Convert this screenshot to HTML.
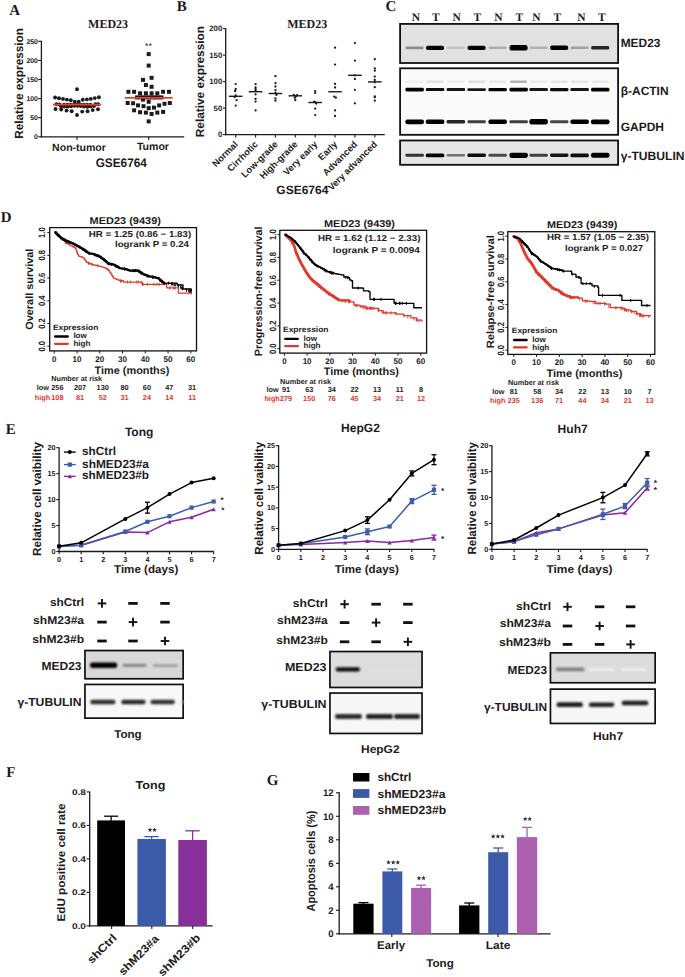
<!DOCTYPE html>
<html><head><meta charset="utf-8"><style>
html,body{margin:0;padding:0;background:#fff;}
svg{display:block;}

</style></head><body>
<svg width="685" height="977" viewBox="0 0 685 977" text-rendering="geometricPrecision">
<rect width="685" height="977" fill="#fff"/>
<text font-family="'Liberation Serif', serif" font-size="15" font-weight="bold" fill="#1e1a1b" text-anchor="start" x="9.20" y="15.40" >A</text>
<text font-family="'Liberation Serif', serif" font-size="12.2" font-weight="bold" fill="#1e1a1b" text-anchor="start" textLength="40" lengthAdjust="spacingAndGlyphs" x="88.10" y="27.80" >MED23</text>
<line x1="41.40" y1="40.80" x2="41.40" y2="137.40" stroke="#1e1a1b" stroke-width="1.3" />
<line x1="38.20" y1="136.80" x2="41.40" y2="136.80" stroke="#1e1a1b" stroke-width="1.1" />
<text font-family="'Liberation Sans', sans-serif" font-size="6.9" font-weight="bold" fill="#1e1a1b" text-anchor="end" x="37.90" y="139.20" >0</text>
<line x1="38.20" y1="117.70" x2="41.40" y2="117.70" stroke="#1e1a1b" stroke-width="1.1" />
<text font-family="'Liberation Sans', sans-serif" font-size="6.9" font-weight="bold" fill="#1e1a1b" text-anchor="end" x="37.90" y="120.10" >50</text>
<line x1="38.20" y1="98.60" x2="41.40" y2="98.60" stroke="#1e1a1b" stroke-width="1.1" />
<text font-family="'Liberation Sans', sans-serif" font-size="6.9" font-weight="bold" fill="#1e1a1b" text-anchor="end" x="37.90" y="101.00" >100</text>
<line x1="38.20" y1="79.50" x2="41.40" y2="79.50" stroke="#1e1a1b" stroke-width="1.1" />
<text font-family="'Liberation Sans', sans-serif" font-size="6.9" font-weight="bold" fill="#1e1a1b" text-anchor="end" x="37.90" y="81.90" >150</text>
<line x1="38.20" y1="60.40" x2="41.40" y2="60.40" stroke="#1e1a1b" stroke-width="1.1" />
<text font-family="'Liberation Sans', sans-serif" font-size="6.9" font-weight="bold" fill="#1e1a1b" text-anchor="end" x="37.90" y="62.80" >200</text>
<line x1="38.20" y1="41.30" x2="41.40" y2="41.30" stroke="#1e1a1b" stroke-width="1.1" />
<text font-family="'Liberation Sans', sans-serif" font-size="6.9" font-weight="bold" fill="#1e1a1b" text-anchor="end" x="37.90" y="43.70" >250</text>
<line x1="40.80" y1="136.80" x2="184.20" y2="136.80" stroke="#1e1a1b" stroke-width="1.3" />
<line x1="77.00" y1="136.80" x2="77.00" y2="140.00" stroke="#1e1a1b" stroke-width="1.1" />
<line x1="148.70" y1="136.80" x2="148.70" y2="140.00" stroke="#1e1a1b" stroke-width="1.1" />
<text font-family="'Liberation Sans', sans-serif" font-size="10.5" font-weight="bold" fill="#1e1a1b" text-anchor="start" textLength="53.8" lengthAdjust="spacingAndGlyphs" x="52.10" y="150.80" >Non-tumor</text>
<text font-family="'Liberation Sans', sans-serif" font-size="10.6" font-weight="bold" fill="#1e1a1b" text-anchor="start" textLength="32.1" lengthAdjust="spacingAndGlyphs" x="136.90" y="149.80" >Tumor</text>
<text font-family="'Liberation Sans', sans-serif" font-size="12.4" font-weight="bold" fill="#1e1a1b" text-anchor="start" textLength="51.2" lengthAdjust="spacingAndGlyphs" x="95.70" y="166.60" >GSE6764</text>
<text font-family="'Liberation Sans', sans-serif" font-size="11.8" font-weight="bold" fill="#1e1a1b" text-anchor="middle" textLength="110.8" lengthAdjust="spacingAndGlyphs" transform="translate(22.90,83.40) rotate(-90)" x="0" y="0" >Relative expression</text>
<circle cx="55.10" cy="97.50" r="1.95" fill="#1e1a1b"/>
<circle cx="59.00" cy="98.30" r="1.95" fill="#1e1a1b"/>
<circle cx="63.00" cy="98.90" r="1.95" fill="#1e1a1b"/>
<circle cx="66.90" cy="99.60" r="1.95" fill="#1e1a1b"/>
<circle cx="70.80" cy="100.30" r="1.95" fill="#1e1a1b"/>
<circle cx="74.80" cy="101.80" r="1.95" fill="#1e1a1b"/>
<circle cx="78.70" cy="101.60" r="1.95" fill="#1e1a1b"/>
<circle cx="82.80" cy="99.80" r="1.95" fill="#1e1a1b"/>
<circle cx="86.90" cy="99.40" r="1.95" fill="#1e1a1b"/>
<circle cx="90.80" cy="98.90" r="1.95" fill="#1e1a1b"/>
<circle cx="94.80" cy="98.10" r="1.95" fill="#1e1a1b"/>
<circle cx="98.90" cy="97.20" r="1.95" fill="#1e1a1b"/>
<circle cx="55.50" cy="109.00" r="1.95" fill="#1e1a1b"/>
<circle cx="61.20" cy="109.50" r="1.95" fill="#1e1a1b"/>
<circle cx="66.50" cy="110.60" r="1.95" fill="#1e1a1b"/>
<circle cx="71.70" cy="111.20" r="1.95" fill="#1e1a1b"/>
<circle cx="77.00" cy="115.00" r="1.95" fill="#1e1a1b"/>
<circle cx="82.20" cy="111.60" r="1.95" fill="#1e1a1b"/>
<circle cx="87.50" cy="111.20" r="1.95" fill="#1e1a1b"/>
<circle cx="92.70" cy="110.10" r="1.95" fill="#1e1a1b"/>
<circle cx="98.00" cy="109.20" r="1.95" fill="#1e1a1b"/>
<circle cx="56.50" cy="104.30" r="1.95" fill="#1e1a1b"/>
<circle cx="59.50" cy="104.40" r="1.95" fill="#1e1a1b"/>
<circle cx="95.50" cy="104.30" r="1.95" fill="#1e1a1b"/>
<circle cx="98.20" cy="104.20" r="1.95" fill="#1e1a1b"/>
<circle cx="61.00" cy="106.20" r="1.95" fill="#1e1a1b"/>
<circle cx="64.30" cy="106.62" r="1.95" fill="#1e1a1b"/>
<circle cx="67.60" cy="106.65" r="1.95" fill="#1e1a1b"/>
<circle cx="70.90" cy="106.27" r="1.95" fill="#1e1a1b"/>
<circle cx="74.20" cy="105.82" r="1.95" fill="#1e1a1b"/>
<circle cx="77.50" cy="105.72" r="1.95" fill="#1e1a1b"/>
<circle cx="80.80" cy="106.06" r="1.95" fill="#1e1a1b"/>
<circle cx="84.10" cy="106.53" r="1.95" fill="#1e1a1b"/>
<circle cx="87.40" cy="106.69" r="1.95" fill="#1e1a1b"/>
<circle cx="90.70" cy="106.41" r="1.95" fill="#1e1a1b"/>
<circle cx="94.00" cy="105.93" r="1.95" fill="#1e1a1b"/>
<circle cx="64.00" cy="104.80" r="1.95" fill="#1e1a1b"/>
<circle cx="67.30" cy="104.80" r="1.95" fill="#1e1a1b"/>
<circle cx="70.60" cy="104.80" r="1.95" fill="#1e1a1b"/>
<circle cx="73.90" cy="104.80" r="1.95" fill="#1e1a1b"/>
<circle cx="77.20" cy="104.80" r="1.95" fill="#1e1a1b"/>
<circle cx="80.50" cy="104.80" r="1.95" fill="#1e1a1b"/>
<circle cx="83.80" cy="104.80" r="1.95" fill="#1e1a1b"/>
<circle cx="87.10" cy="104.80" r="1.95" fill="#1e1a1b"/>
<circle cx="90.40" cy="104.80" r="1.95" fill="#1e1a1b"/>
<circle cx="77.00" cy="89.30" r="1.95" fill="#1e1a1b"/>
<line x1="52.90" y1="104.70" x2="101.10" y2="104.70" stroke="#e8412c" stroke-width="1.7" />
<rect x="146.70" y="52.10" width="4.00" height="4.00" fill="#1e1a1b" />
<rect x="146.70" y="63.60" width="4.00" height="4.00" fill="#1e1a1b" />
<rect x="149.60" y="75.80" width="4.00" height="4.00" fill="#1e1a1b" />
<rect x="141.00" y="77.90" width="4.00" height="4.00" fill="#1e1a1b" />
<rect x="143.90" y="83.00" width="4.00" height="4.00" fill="#1e1a1b" />
<rect x="149.60" y="84.80" width="4.00" height="4.00" fill="#1e1a1b" />
<rect x="126.40" y="89.80" width="4.00" height="4.00" fill="#1e1a1b" />
<rect x="132.10" y="89.80" width="4.00" height="4.00" fill="#1e1a1b" />
<rect x="138.10" y="91.30" width="4.00" height="4.00" fill="#1e1a1b" />
<rect x="143.90" y="91.30" width="4.00" height="4.00" fill="#1e1a1b" />
<rect x="149.60" y="91.30" width="4.00" height="4.00" fill="#1e1a1b" />
<rect x="155.30" y="91.30" width="4.00" height="4.00" fill="#1e1a1b" />
<rect x="161.10" y="89.80" width="4.00" height="4.00" fill="#1e1a1b" />
<rect x="167.00" y="89.80" width="4.00" height="4.00" fill="#1e1a1b" />
<rect x="135.00" y="95.40" width="4.00" height="4.00" fill="#1e1a1b" />
<rect x="138.50" y="95.40" width="4.00" height="4.00" fill="#1e1a1b" />
<rect x="141.50" y="95.40" width="4.00" height="4.00" fill="#1e1a1b" />
<rect x="144.50" y="95.40" width="4.00" height="4.00" fill="#1e1a1b" />
<rect x="147.50" y="95.40" width="4.00" height="4.00" fill="#1e1a1b" />
<rect x="150.50" y="95.40" width="4.00" height="4.00" fill="#1e1a1b" />
<rect x="153.50" y="95.40" width="4.00" height="4.00" fill="#1e1a1b" />
<rect x="156.50" y="95.40" width="4.00" height="4.00" fill="#1e1a1b" />
<rect x="159.50" y="95.40" width="4.00" height="4.00" fill="#1e1a1b" />
<rect x="141.00" y="97.60" width="4.00" height="4.00" fill="#1e1a1b" />
<rect x="146.70" y="99.80" width="4.00" height="4.00" fill="#1e1a1b" />
<rect x="125.70" y="101.00" width="4.00" height="4.00" fill="#1e1a1b" />
<rect x="131.10" y="101.30" width="4.00" height="4.00" fill="#1e1a1b" />
<rect x="136.00" y="103.40" width="4.00" height="4.00" fill="#1e1a1b" />
<rect x="141.50" y="104.20" width="4.00" height="4.00" fill="#1e1a1b" />
<rect x="146.70" y="106.10" width="4.00" height="4.00" fill="#1e1a1b" />
<rect x="152.00" y="105.60" width="4.00" height="4.00" fill="#1e1a1b" />
<rect x="157.10" y="103.40" width="4.00" height="4.00" fill="#1e1a1b" />
<rect x="162.50" y="101.80" width="4.00" height="4.00" fill="#1e1a1b" />
<rect x="167.80" y="101.00" width="4.00" height="4.00" fill="#1e1a1b" />
<rect x="132.10" y="108.30" width="4.00" height="4.00" fill="#1e1a1b" />
<rect x="138.10" y="110.20" width="4.00" height="4.00" fill="#1e1a1b" />
<rect x="143.90" y="110.60" width="4.00" height="4.00" fill="#1e1a1b" />
<rect x="149.60" y="112.00" width="4.00" height="4.00" fill="#1e1a1b" />
<rect x="155.30" y="110.60" width="4.00" height="4.00" fill="#1e1a1b" />
<rect x="161.10" y="109.90" width="4.00" height="4.00" fill="#1e1a1b" />
<rect x="146.70" y="119.40" width="4.00" height="4.00" fill="#1e1a1b" />
<line x1="124.90" y1="97.90" x2="172.70" y2="97.90" stroke="#e8412c" stroke-width="1.7" />
<polygon points="146.70,42.80 147.17,43.95 148.41,44.04 147.46,44.85 147.76,46.06 146.70,45.40 145.64,46.06 145.94,44.85 144.99,44.04 146.23,43.95" fill="#444"/>
<polygon points="150.30,42.80 150.77,43.95 152.01,44.04 151.06,44.85 151.36,46.06 150.30,45.40 149.24,46.06 149.54,44.85 148.59,44.04 149.83,43.95" fill="#444"/>
<text font-family="'Liberation Serif', serif" font-size="15" font-weight="bold" fill="#1e1a1b" text-anchor="start" x="176.70" y="10.70" >B</text>
<line x1="225.70" y1="28.10" x2="225.70" y2="135.20" stroke="#1e1a1b" stroke-width="1.3" />
<line x1="222.90" y1="134.60" x2="225.70" y2="134.60" stroke="#1e1a1b" stroke-width="1.1" />
<text font-family="'Liberation Sans', sans-serif" font-size="7.8" font-weight="bold" fill="#1e1a1b" text-anchor="end" x="222.30" y="137.40" >0</text>
<line x1="222.90" y1="108.10" x2="225.70" y2="108.10" stroke="#1e1a1b" stroke-width="1.1" />
<text font-family="'Liberation Sans', sans-serif" font-size="7.8" font-weight="bold" fill="#1e1a1b" text-anchor="end" x="222.30" y="110.90" >50</text>
<line x1="222.90" y1="81.60" x2="225.70" y2="81.60" stroke="#1e1a1b" stroke-width="1.1" />
<text font-family="'Liberation Sans', sans-serif" font-size="7.8" font-weight="bold" fill="#1e1a1b" text-anchor="end" x="222.30" y="84.40" >100</text>
<line x1="222.90" y1="55.10" x2="225.70" y2="55.10" stroke="#1e1a1b" stroke-width="1.1" />
<text font-family="'Liberation Sans', sans-serif" font-size="7.8" font-weight="bold" fill="#1e1a1b" text-anchor="end" x="222.30" y="57.90" >150</text>
<line x1="222.90" y1="28.60" x2="225.70" y2="28.60" stroke="#1e1a1b" stroke-width="1.1" />
<text font-family="'Liberation Sans', sans-serif" font-size="7.8" font-weight="bold" fill="#1e1a1b" text-anchor="end" x="222.30" y="31.40" >200</text>
<line x1="225.10" y1="134.60" x2="384.70" y2="134.60" stroke="#1e1a1b" stroke-width="1.3" />
<line x1="235.70" y1="134.60" x2="235.70" y2="137.60" stroke="#1e1a1b" stroke-width="1.1" />
<text font-family="'Liberation Sans', sans-serif" font-size="9.3" font-weight="bold" fill="#1e1a1b" text-anchor="end" transform="translate(238.60,144.90) rotate(-45)" x="0" y="0" >Normal</text>
<line x1="255.57" y1="134.60" x2="255.57" y2="137.60" stroke="#1e1a1b" stroke-width="1.1" />
<text font-family="'Liberation Sans', sans-serif" font-size="9.3" font-weight="bold" fill="#1e1a1b" text-anchor="end" transform="translate(258.47,144.90) rotate(-45)" x="0" y="0" >Cirrhotic</text>
<line x1="275.44" y1="134.60" x2="275.44" y2="137.60" stroke="#1e1a1b" stroke-width="1.1" />
<text font-family="'Liberation Sans', sans-serif" font-size="9.3" font-weight="bold" fill="#1e1a1b" text-anchor="end" transform="translate(278.34,144.90) rotate(-45)" x="0" y="0" >Low-grade</text>
<line x1="295.31" y1="134.60" x2="295.31" y2="137.60" stroke="#1e1a1b" stroke-width="1.1" />
<text font-family="'Liberation Sans', sans-serif" font-size="9.3" font-weight="bold" fill="#1e1a1b" text-anchor="end" transform="translate(298.21,144.90) rotate(-45)" x="0" y="0" >High-grade</text>
<line x1="315.18" y1="134.60" x2="315.18" y2="137.60" stroke="#1e1a1b" stroke-width="1.1" />
<text font-family="'Liberation Sans', sans-serif" font-size="9.3" font-weight="bold" fill="#1e1a1b" text-anchor="end" transform="translate(318.08,144.90) rotate(-45)" x="0" y="0" >Very early</text>
<line x1="335.05" y1="134.60" x2="335.05" y2="137.60" stroke="#1e1a1b" stroke-width="1.1" />
<text font-family="'Liberation Sans', sans-serif" font-size="9.3" font-weight="bold" fill="#1e1a1b" text-anchor="end" transform="translate(337.95,144.90) rotate(-45)" x="0" y="0" >Early</text>
<line x1="354.92" y1="134.60" x2="354.92" y2="137.60" stroke="#1e1a1b" stroke-width="1.1" />
<text font-family="'Liberation Sans', sans-serif" font-size="9.3" font-weight="bold" fill="#1e1a1b" text-anchor="end" transform="translate(357.82,144.90) rotate(-45)" x="0" y="0" >Advanced</text>
<line x1="374.79" y1="134.60" x2="374.79" y2="137.60" stroke="#1e1a1b" stroke-width="1.1" />
<text font-family="'Liberation Sans', sans-serif" font-size="9.3" font-weight="bold" fill="#1e1a1b" text-anchor="end" transform="translate(377.69,144.90) rotate(-45)" x="0" y="0" >Very advanced</text>
<text font-family="'Liberation Sans', sans-serif" font-size="12" font-weight="bold" fill="#1e1a1b" text-anchor="start" textLength="52.1" lengthAdjust="spacingAndGlyphs" x="276.30" y="194.30" >GSE6764</text>
<text font-family="'Liberation Sans', sans-serif" font-size="11.8" font-weight="bold" fill="#1e1a1b" text-anchor="middle" textLength="111.2" lengthAdjust="spacingAndGlyphs" transform="translate(204.10,81.60) rotate(-90)" x="0" y="0" >Relative expression</text>
<text font-family="'Liberation Serif', serif" font-size="12.2" font-weight="bold" fill="#1e1a1b" text-anchor="start" textLength="40" lengthAdjust="spacingAndGlyphs" x="287.20" y="27.60" >MED23</text>
<line x1="228.90" y1="96.30" x2="242.50" y2="96.30" stroke="#1e1a1b" stroke-width="1.4" />
<circle cx="235.70" cy="84.10" r="1.15" fill="#1e1a1b"/>
<circle cx="235.70" cy="89.00" r="1.15" fill="#1e1a1b"/>
<circle cx="235.20" cy="91.00" r="1.15" fill="#1e1a1b"/>
<circle cx="234.70" cy="97.20" r="1.15" fill="#1e1a1b"/>
<circle cx="236.70" cy="100.20" r="1.15" fill="#1e1a1b"/>
<circle cx="235.70" cy="105.60" r="1.15" fill="#1e1a1b"/>
<circle cx="235.70" cy="95.50" r="1.15" fill="#1e1a1b"/>
<line x1="248.77" y1="91.70" x2="262.37" y2="91.70" stroke="#1e1a1b" stroke-width="1.4" />
<circle cx="255.57" cy="84.10" r="1.15" fill="#1e1a1b"/>
<circle cx="255.57" cy="87.30" r="1.15" fill="#1e1a1b"/>
<circle cx="255.57" cy="89.00" r="1.15" fill="#1e1a1b"/>
<circle cx="255.57" cy="94.30" r="1.15" fill="#1e1a1b"/>
<circle cx="255.57" cy="98.90" r="1.15" fill="#1e1a1b"/>
<circle cx="255.57" cy="101.60" r="1.15" fill="#1e1a1b"/>
<circle cx="255.57" cy="110.40" r="1.15" fill="#1e1a1b"/>
<circle cx="255.57" cy="90.50" r="1.15" fill="#1e1a1b"/>
<line x1="268.64" y1="93.50" x2="282.24" y2="93.50" stroke="#1e1a1b" stroke-width="1.4" />
<circle cx="275.44" cy="76.20" r="1.15" fill="#1e1a1b"/>
<circle cx="275.44" cy="83.20" r="1.15" fill="#1e1a1b"/>
<circle cx="275.44" cy="86.50" r="1.15" fill="#1e1a1b"/>
<circle cx="275.44" cy="90.20" r="1.15" fill="#1e1a1b"/>
<circle cx="276.44" cy="94.90" r="1.15" fill="#1e1a1b"/>
<circle cx="275.44" cy="98.40" r="1.15" fill="#1e1a1b"/>
<circle cx="275.44" cy="100.70" r="1.15" fill="#1e1a1b"/>
<circle cx="275.44" cy="93.00" r="1.15" fill="#1e1a1b"/>
<line x1="288.51" y1="95.80" x2="302.11" y2="95.80" stroke="#1e1a1b" stroke-width="1.4" />
<circle cx="293.81" cy="95.00" r="1.15" fill="#1e1a1b"/>
<circle cx="297.11" cy="95.20" r="1.15" fill="#1e1a1b"/>
<circle cx="295.31" cy="100.20" r="1.15" fill="#1e1a1b"/>
<circle cx="295.81" cy="96.50" r="1.15" fill="#1e1a1b"/>
<circle cx="294.81" cy="97.80" r="1.15" fill="#1e1a1b"/>
<line x1="308.38" y1="102.50" x2="321.98" y2="102.50" stroke="#1e1a1b" stroke-width="1.4" />
<circle cx="315.18" cy="91.10" r="1.15" fill="#1e1a1b"/>
<circle cx="315.18" cy="93.10" r="1.15" fill="#1e1a1b"/>
<circle cx="314.18" cy="101.60" r="1.15" fill="#1e1a1b"/>
<circle cx="316.18" cy="103.60" r="1.15" fill="#1e1a1b"/>
<circle cx="315.18" cy="108.60" r="1.15" fill="#1e1a1b"/>
<circle cx="315.18" cy="115.10" r="1.15" fill="#1e1a1b"/>
<circle cx="315.18" cy="102.20" r="1.15" fill="#1e1a1b"/>
<line x1="328.25" y1="91.75" x2="341.85" y2="91.75" stroke="#1e1a1b" stroke-width="1.4" />
<circle cx="335.05" cy="47.70" r="1.15" fill="#1e1a1b"/>
<circle cx="335.05" cy="64.60" r="1.15" fill="#1e1a1b"/>
<circle cx="335.05" cy="83.90" r="1.15" fill="#1e1a1b"/>
<circle cx="335.05" cy="87.50" r="1.15" fill="#1e1a1b"/>
<circle cx="334.25" cy="96.70" r="1.15" fill="#1e1a1b"/>
<circle cx="335.85" cy="97.70" r="1.15" fill="#1e1a1b"/>
<circle cx="335.05" cy="110.40" r="1.15" fill="#1e1a1b"/>
<circle cx="335.05" cy="116.00" r="1.15" fill="#1e1a1b"/>
<line x1="348.12" y1="75.30" x2="361.72" y2="75.30" stroke="#1e1a1b" stroke-width="1.4" />
<circle cx="354.92" cy="43.10" r="1.15" fill="#1e1a1b"/>
<circle cx="354.92" cy="60.60" r="1.15" fill="#1e1a1b"/>
<circle cx="354.92" cy="75.30" r="1.15" fill="#1e1a1b"/>
<circle cx="354.92" cy="79.00" r="1.15" fill="#1e1a1b"/>
<circle cx="354.92" cy="89.80" r="1.15" fill="#1e1a1b"/>
<circle cx="354.92" cy="103.30" r="1.15" fill="#1e1a1b"/>
<line x1="367.99" y1="81.90" x2="381.59" y2="81.90" stroke="#1e1a1b" stroke-width="1.4" />
<circle cx="374.79" cy="59.20" r="1.15" fill="#1e1a1b"/>
<circle cx="374.79" cy="68.40" r="1.15" fill="#1e1a1b"/>
<circle cx="374.79" cy="70.70" r="1.15" fill="#1e1a1b"/>
<circle cx="374.79" cy="76.60" r="1.15" fill="#1e1a1b"/>
<circle cx="374.79" cy="79.90" r="1.15" fill="#1e1a1b"/>
<circle cx="374.79" cy="82.30" r="1.15" fill="#1e1a1b"/>
<circle cx="374.79" cy="87.20" r="1.15" fill="#1e1a1b"/>
<circle cx="374.79" cy="96.40" r="1.15" fill="#1e1a1b"/>
<circle cx="374.79" cy="97.30" r="1.15" fill="#1e1a1b"/>
<circle cx="374.79" cy="100.70" r="1.15" fill="#1e1a1b"/>
<text font-family="'Liberation Serif', serif" font-size="15" font-weight="bold" fill="#1e1a1b" text-anchor="start" x="385.60" y="10.80" >C</text>
<text font-family="'Liberation Serif', serif" font-size="11.5" font-weight="bold" fill="#1e1a1b" text-anchor="middle" x="415.90" y="20.80" >N</text>
<text font-family="'Liberation Serif', serif" font-size="11.5" font-weight="bold" fill="#1e1a1b" text-anchor="middle" x="435.80" y="20.80" >T</text>
<text font-family="'Liberation Serif', serif" font-size="11.5" font-weight="bold" fill="#1e1a1b" text-anchor="middle" x="456.60" y="20.80" >N</text>
<text font-family="'Liberation Serif', serif" font-size="11.5" font-weight="bold" fill="#1e1a1b" text-anchor="middle" x="477.40" y="20.80" >T</text>
<text font-family="'Liberation Serif', serif" font-size="11.5" font-weight="bold" fill="#1e1a1b" text-anchor="middle" x="498.40" y="20.80" >N</text>
<text font-family="'Liberation Serif', serif" font-size="11.5" font-weight="bold" fill="#1e1a1b" text-anchor="middle" x="519.40" y="20.80" >T</text>
<text font-family="'Liberation Serif', serif" font-size="11.5" font-weight="bold" fill="#1e1a1b" text-anchor="middle" x="536.40" y="20.80" >N</text>
<text font-family="'Liberation Serif', serif" font-size="11.5" font-weight="bold" fill="#1e1a1b" text-anchor="middle" x="557.30" y="20.80" >T</text>
<text font-family="'Liberation Serif', serif" font-size="11.5" font-weight="bold" fill="#1e1a1b" text-anchor="middle" x="581.40" y="20.80" >N</text>
<text font-family="'Liberation Serif', serif" font-size="11.5" font-weight="bold" fill="#1e1a1b" text-anchor="middle" x="601.90" y="20.80" >T</text>
<defs><filter id="bl" x="-30%" y="-100%" width="160%" height="300%"><feGaussianBlur stdDeviation="0.65"/></filter><filter id="bl2" x="-30%" y="-100%" width="160%" height="300%"><feGaussianBlur stdDeviation="1.0"/></filter></defs>
<rect x="399.20" y="23.00" width="219.80" height="40.90" fill="#e1e1e1" />
<rect x="400.09999999999997" y="23.9" width="218.0" height="39.1" fill="none" stroke="#111" stroke-width="1.8"/>
<rect x="405.6" y="46.4" width="18.0" height="2.8" rx="1.1" fill="rgb(140,140,140)" filter="url(#bl)"/>
<rect x="426.0" y="45.7" width="18.0" height="4.2" rx="1.7" fill="rgb(0,0,0)" filter="url(#bl)"/>
<rect x="446.8" y="46.6" width="18.0" height="2.4" rx="1.0" fill="rgb(191,191,191)" filter="url(#bl)"/>
<rect x="467.6" y="45.7" width="18.0" height="4.2" rx="1.7" fill="rgb(0,0,0)" filter="url(#bl)"/>
<rect x="488.6" y="46.5" width="18.0" height="2.6" rx="1.0" fill="rgb(173,173,173)" filter="url(#bl)"/>
<rect x="509.6" y="45.0" width="18.0" height="5.6" rx="2.2" fill="rgb(0,0,0)" filter="url(#bl)"/>
<rect x="529.6" y="46.5" width="18.0" height="2.6" rx="1.0" fill="rgb(178,178,178)" filter="url(#bl)"/>
<rect x="550.2" y="45.6" width="18.0" height="4.4" rx="1.8" fill="rgb(0,0,0)" filter="url(#bl)"/>
<rect x="570.6" y="46.5" width="18.0" height="2.6" rx="1.0" fill="rgb(163,163,163)" filter="url(#bl)"/>
<rect x="591.2" y="46.0" width="18.0" height="3.6" rx="1.4" fill="rgb(38,38,38)" filter="url(#bl)"/>
<rect x="399.20" y="67.40" width="219.80" height="68.30" fill="#fafafa" />
<rect x="400.09999999999997" y="68.30000000000001" width="218.0" height="66.49999999999999" fill="none" stroke="#111" stroke-width="1.8"/>
<rect x="406.1" y="80.6" width="17.0" height="2.4" rx="1.0" fill="rgb(239,239,239)" filter="url(#bl)"/>
<rect x="405.4" y="87.8" width="18.5" height="3.6" rx="1.4" fill="rgb(0,0,0)" filter="url(#bl)"/>
<rect x="405.4" y="119.4" width="18.5" height="4.8" rx="1.9" fill="rgb(0,0,0)" filter="url(#bl)"/>
<rect x="426.5" y="80.6" width="17.0" height="2.4" rx="1.0" fill="rgb(224,224,224)" filter="url(#bl)"/>
<rect x="425.8" y="88.1" width="18.5" height="3.0" rx="1.2" fill="rgb(12,12,12)" filter="url(#bl)"/>
<rect x="425.8" y="119.5" width="18.5" height="4.6" rx="1.8" fill="rgb(0,0,0)" filter="url(#bl)"/>
<rect x="447.3" y="80.6" width="17.0" height="2.4" rx="1.0" fill="rgb(237,237,237)" filter="url(#bl)"/>
<rect x="446.6" y="88.1" width="18.5" height="3.0" rx="1.2" fill="rgb(20,20,20)" filter="url(#bl)"/>
<rect x="446.6" y="120.0" width="18.5" height="3.6" rx="1.4" fill="rgb(38,38,38)" filter="url(#bl)"/>
<rect x="468.1" y="80.6" width="17.0" height="2.4" rx="1.0" fill="rgb(224,224,224)" filter="url(#bl)"/>
<rect x="467.4" y="88.2" width="18.5" height="2.8" rx="1.1" fill="rgb(25,25,25)" filter="url(#bl)"/>
<rect x="467.4" y="120.3" width="18.5" height="3.0" rx="1.2" fill="rgb(63,63,63)" filter="url(#bl)"/>
<rect x="489.1" y="80.6" width="17.0" height="2.4" rx="1.0" fill="rgb(232,232,232)" filter="url(#bl)"/>
<rect x="488.4" y="87.9" width="18.5" height="3.4" rx="1.4" fill="rgb(5,5,5)" filter="url(#bl)"/>
<rect x="488.4" y="119.6" width="18.5" height="4.4" rx="1.8" fill="rgb(0,0,0)" filter="url(#bl)"/>
<rect x="510.1" y="80.6" width="17.0" height="2.4" rx="1.0" fill="rgb(178,178,178)" filter="url(#bl)"/>
<rect x="509.4" y="87.8" width="18.5" height="3.6" rx="1.4" fill="rgb(0,0,0)" filter="url(#bl)"/>
<rect x="509.4" y="120.3" width="18.5" height="3.0" rx="1.2" fill="rgb(63,63,63)" filter="url(#bl)"/>
<rect x="530.1" y="80.6" width="17.0" height="2.4" rx="1.0" fill="rgb(237,237,237)" filter="url(#bl)"/>
<rect x="529.4" y="88.1" width="18.5" height="3.0" rx="1.2" fill="rgb(20,20,20)" filter="url(#bl)"/>
<rect x="529.4" y="119.1" width="18.5" height="5.4" rx="2.2" fill="rgb(0,0,0)" filter="url(#bl)"/>
<rect x="550.7" y="80.6" width="17.0" height="2.4" rx="1.0" fill="rgb(229,229,229)" filter="url(#bl)"/>
<rect x="550.0" y="88.0" width="18.5" height="3.2" rx="1.3" fill="rgb(12,12,12)" filter="url(#bl)"/>
<rect x="550.0" y="120.3" width="18.5" height="3.0" rx="1.2" fill="rgb(71,71,71)" filter="url(#bl)"/>
<rect x="571.1" y="80.6" width="17.0" height="2.4" rx="1.0" fill="rgb(232,232,232)" filter="url(#bl)"/>
<rect x="570.4" y="88.1" width="18.5" height="3.0" rx="1.2" fill="rgb(25,25,25)" filter="url(#bl)"/>
<rect x="570.4" y="119.6" width="18.5" height="4.4" rx="1.8" fill="rgb(0,0,0)" filter="url(#bl)"/>
<rect x="591.7" y="80.6" width="17.0" height="2.4" rx="1.0" fill="rgb(232,232,232)" filter="url(#bl)"/>
<rect x="591.0" y="87.7" width="18.5" height="3.8" rx="1.5" fill="rgb(0,0,0)" filter="url(#bl)"/>
<rect x="591.0" y="119.4" width="18.5" height="4.8" rx="1.9" fill="rgb(0,0,0)" filter="url(#bl)"/>
<rect x="399.20" y="139.60" width="219.80" height="26.10" fill="#e6e6e6" />
<rect x="400.09999999999997" y="140.5" width="218.0" height="24.299999999999994" fill="none" stroke="#111" stroke-width="1.8"/>
<rect x="405.4" y="153.8" width="18.5" height="3.0" rx="1.2" fill="rgb(50,50,50)" filter="url(#bl)"/>
<rect x="425.8" y="153.4" width="18.5" height="3.8" rx="1.5" fill="rgb(0,0,0)" filter="url(#bl)"/>
<rect x="446.6" y="154.0" width="18.5" height="2.6" rx="1.0" fill="rgb(114,114,114)" filter="url(#bl)"/>
<rect x="467.4" y="153.5" width="18.5" height="3.6" rx="1.4" fill="rgb(12,12,12)" filter="url(#bl)"/>
<rect x="488.4" y="153.8" width="18.5" height="3.0" rx="1.2" fill="rgb(76,76,76)" filter="url(#bl)"/>
<rect x="509.4" y="152.7" width="18.5" height="5.2" rx="2.1" fill="rgb(0,0,0)" filter="url(#bl)"/>
<rect x="529.4" y="153.8" width="18.5" height="3.0" rx="1.2" fill="rgb(63,63,63)" filter="url(#bl)"/>
<rect x="550.0" y="153.6" width="18.5" height="3.4" rx="1.4" fill="rgb(25,25,25)" filter="url(#bl)"/>
<rect x="570.4" y="153.4" width="18.5" height="3.8" rx="1.5" fill="rgb(12,12,12)" filter="url(#bl)"/>
<rect x="591.0" y="152.8" width="18.5" height="5.0" rx="2.0" fill="rgb(0,0,0)" filter="url(#bl)"/>
<text font-family="'Liberation Sans', sans-serif" font-size="12" font-weight="bold" fill="#1e1a1b" text-anchor="start" textLength="39.7" lengthAdjust="spacingAndGlyphs" x="620.70" y="47.00" >MED23</text>
<text font-family="'Liberation Sans', sans-serif" font-size="12" font-weight="bold" fill="#1e1a1b" text-anchor="start" textLength="47.9" lengthAdjust="spacingAndGlyphs" x="620.70" y="94.80" >β-ACTIN</text>
<text font-family="'Liberation Sans', sans-serif" font-size="12" font-weight="bold" fill="#1e1a1b" text-anchor="start" textLength="43.3" lengthAdjust="spacingAndGlyphs" x="620.70" y="130.90" >GAPDH</text>
<text font-family="'Liberation Sans', sans-serif" font-size="12" font-weight="bold" fill="#1e1a1b" text-anchor="start" textLength="63.8" lengthAdjust="spacingAndGlyphs" x="620.70" y="159.60" >γ-TUBULIN</text>
<text font-family="'Liberation Serif', serif" font-size="15" font-weight="bold" fill="#1e1a1b" text-anchor="start" x="0.80" y="222.10" >D</text>
<rect x="49.7" y="227.6" width="146.8" height="123.29999999999998" fill="none" stroke="#111" stroke-width="1.3"/>
<line x1="47.30" y1="232.60" x2="49.70" y2="232.60" stroke="#1e1a1b" stroke-width="1.0" />
<text font-family="'Liberation Sans', sans-serif" font-size="9.2" font-weight="bold" fill="#1e1a1b" text-anchor="middle" textLength="10.6" lengthAdjust="spacingAndGlyphs" transform="translate(45.20,232.60) rotate(-90)" x="0" y="0" >1.0</text>
<line x1="47.30" y1="255.32" x2="49.70" y2="255.32" stroke="#1e1a1b" stroke-width="1.0" />
<text font-family="'Liberation Sans', sans-serif" font-size="9.2" font-weight="bold" fill="#1e1a1b" text-anchor="middle" textLength="10.6" lengthAdjust="spacingAndGlyphs" transform="translate(45.20,255.32) rotate(-90)" x="0" y="0" >0.8</text>
<line x1="47.30" y1="278.04" x2="49.70" y2="278.04" stroke="#1e1a1b" stroke-width="1.0" />
<text font-family="'Liberation Sans', sans-serif" font-size="9.2" font-weight="bold" fill="#1e1a1b" text-anchor="middle" textLength="10.6" lengthAdjust="spacingAndGlyphs" transform="translate(45.20,278.04) rotate(-90)" x="0" y="0" >0.6</text>
<line x1="47.30" y1="300.76" x2="49.70" y2="300.76" stroke="#1e1a1b" stroke-width="1.0" />
<text font-family="'Liberation Sans', sans-serif" font-size="9.2" font-weight="bold" fill="#1e1a1b" text-anchor="middle" textLength="10.6" lengthAdjust="spacingAndGlyphs" transform="translate(45.20,300.76) rotate(-90)" x="0" y="0" >0.4</text>
<line x1="47.30" y1="323.48" x2="49.70" y2="323.48" stroke="#1e1a1b" stroke-width="1.0" />
<text font-family="'Liberation Sans', sans-serif" font-size="9.2" font-weight="bold" fill="#1e1a1b" text-anchor="middle" textLength="10.6" lengthAdjust="spacingAndGlyphs" transform="translate(45.20,323.48) rotate(-90)" x="0" y="0" >0.2</text>
<line x1="47.30" y1="346.20" x2="49.70" y2="346.20" stroke="#1e1a1b" stroke-width="1.0" />
<text font-family="'Liberation Sans', sans-serif" font-size="9.2" font-weight="bold" fill="#1e1a1b" text-anchor="middle" textLength="10.6" lengthAdjust="spacingAndGlyphs" transform="translate(45.20,346.20) rotate(-90)" x="0" y="0" >0.0</text>
<line x1="54.20" y1="350.90" x2="54.20" y2="353.50" stroke="#1e1a1b" stroke-width="1.0" />
<text font-family="'Liberation Sans', sans-serif" font-size="8.2" font-weight="bold" fill="#1e1a1b" text-anchor="middle" textLength="4.4" lengthAdjust="spacingAndGlyphs" x="54.20" y="362.00" >0</text>
<line x1="76.97" y1="350.90" x2="76.97" y2="353.50" stroke="#1e1a1b" stroke-width="1.0" />
<text font-family="'Liberation Sans', sans-serif" font-size="8.2" font-weight="bold" fill="#1e1a1b" text-anchor="middle" textLength="9.0" lengthAdjust="spacingAndGlyphs" x="76.97" y="362.00" >10</text>
<line x1="99.74" y1="350.90" x2="99.74" y2="353.50" stroke="#1e1a1b" stroke-width="1.0" />
<text font-family="'Liberation Sans', sans-serif" font-size="8.2" font-weight="bold" fill="#1e1a1b" text-anchor="middle" textLength="9.0" lengthAdjust="spacingAndGlyphs" x="99.74" y="362.00" >20</text>
<line x1="122.51" y1="350.90" x2="122.51" y2="353.50" stroke="#1e1a1b" stroke-width="1.0" />
<text font-family="'Liberation Sans', sans-serif" font-size="8.2" font-weight="bold" fill="#1e1a1b" text-anchor="middle" textLength="9.0" lengthAdjust="spacingAndGlyphs" x="122.51" y="362.00" >30</text>
<line x1="145.28" y1="350.90" x2="145.28" y2="353.50" stroke="#1e1a1b" stroke-width="1.0" />
<text font-family="'Liberation Sans', sans-serif" font-size="8.2" font-weight="bold" fill="#1e1a1b" text-anchor="middle" textLength="9.0" lengthAdjust="spacingAndGlyphs" x="145.28" y="362.00" >40</text>
<line x1="168.05" y1="350.90" x2="168.05" y2="353.50" stroke="#1e1a1b" stroke-width="1.0" />
<text font-family="'Liberation Sans', sans-serif" font-size="8.2" font-weight="bold" fill="#1e1a1b" text-anchor="middle" textLength="9.0" lengthAdjust="spacingAndGlyphs" x="168.05" y="362.00" >50</text>
<line x1="190.82" y1="350.90" x2="190.82" y2="353.50" stroke="#1e1a1b" stroke-width="1.0" />
<text font-family="'Liberation Sans', sans-serif" font-size="8.2" font-weight="bold" fill="#1e1a1b" text-anchor="middle" textLength="9.0" lengthAdjust="spacingAndGlyphs" x="190.82" y="362.00" >60</text>
<text font-family="'Liberation Sans', sans-serif" font-size="10.6" font-weight="bold" fill="#1e1a1b" text-anchor="middle" textLength="81" lengthAdjust="spacingAndGlyphs" transform="translate(32.90,289.20) rotate(-90)" x="0" y="0" >Overall survival</text>
<text font-family="'Liberation Sans', sans-serif" font-size="9.9" font-weight="bold" fill="#1e1a1b" text-anchor="start" textLength="71.3" lengthAdjust="spacingAndGlyphs" x="89.60" y="224.40" >MED23 (9439)</text>
<text font-family="'Liberation Sans', sans-serif" font-size="8.6" font-weight="bold" fill="#1e1a1b" text-anchor="start" textLength="102.4" lengthAdjust="spacingAndGlyphs" x="88.80" y="236.60" >HR = 1.25 (0.86 − 1.83)</text>
<text font-family="'Liberation Sans', sans-serif" font-size="8.6" font-weight="bold" fill="#1e1a1b" text-anchor="start" textLength="74.0" lengthAdjust="spacingAndGlyphs" x="115.00" y="246.80" >logrank P = 0.24</text>
<text font-family="'Liberation Sans', sans-serif" font-size="10.8" font-weight="bold" fill="#1e1a1b" text-anchor="start" textLength="74.8" lengthAdjust="spacingAndGlyphs" x="94.60" y="373.70" >Time (months)</text>
<text font-family="'Liberation Sans', sans-serif" font-size="7.8" font-weight="bold" fill="#1e1a1b" text-anchor="start" textLength="45.5" lengthAdjust="spacingAndGlyphs" x="52.90" y="329.60" >Expression</text>
<line x1="55.10" y1="336.50" x2="67.80" y2="336.50" stroke="#000" stroke-width="2.3" stroke-linecap="round"/>
<line x1="55.10" y1="343.80" x2="67.80" y2="343.80" stroke="#e2382a" stroke-width="2.3" stroke-linecap="round"/>
<text font-family="'Liberation Sans', sans-serif" font-size="7.8" font-weight="bold" fill="#1e1a1b" text-anchor="start" textLength="13.4" lengthAdjust="spacingAndGlyphs" x="73.40" y="338.30" >low</text>
<text font-family="'Liberation Sans', sans-serif" font-size="7.8" font-weight="bold" fill="#1e1a1b" text-anchor="start" textLength="17.0" lengthAdjust="spacingAndGlyphs" x="73.40" y="346.00" >high</text>
<text font-family="'Liberation Sans', sans-serif" font-size="7.3" font-weight="bold" fill="#1e1a1b" text-anchor="start" textLength="51" lengthAdjust="spacingAndGlyphs" x="51.20" y="381.30" >Number at risk</text>
<text font-family="'Liberation Sans', sans-serif" font-size="7.3" font-weight="bold" fill="#1e1a1b" text-anchor="end" x="48.90" y="390.10" >low</text>
<text font-family="'Liberation Sans', sans-serif" font-size="7.3" font-weight="bold" fill="#e2382a" text-anchor="end" x="50.20" y="400.10" >high</text>
<text font-family="'Liberation Sans', sans-serif" font-size="7.3" font-weight="bold" fill="#1e1a1b" text-anchor="middle" x="57.40" y="390.10" >256</text>
<text font-family="'Liberation Sans', sans-serif" font-size="7.3" font-weight="bold" fill="#e2382a" text-anchor="middle" x="57.40" y="400.10" >108</text>
<text font-family="'Liberation Sans', sans-serif" font-size="7.3" font-weight="bold" fill="#1e1a1b" text-anchor="middle" x="80.00" y="390.10" >207</text>
<text font-family="'Liberation Sans', sans-serif" font-size="7.3" font-weight="bold" fill="#e2382a" text-anchor="middle" x="80.00" y="400.10" >81</text>
<text font-family="'Liberation Sans', sans-serif" font-size="7.3" font-weight="bold" fill="#1e1a1b" text-anchor="middle" x="102.70" y="390.10" >130</text>
<text font-family="'Liberation Sans', sans-serif" font-size="7.3" font-weight="bold" fill="#e2382a" text-anchor="middle" x="102.70" y="400.10" >52</text>
<text font-family="'Liberation Sans', sans-serif" font-size="7.3" font-weight="bold" fill="#1e1a1b" text-anchor="middle" x="124.50" y="390.10" >80</text>
<text font-family="'Liberation Sans', sans-serif" font-size="7.3" font-weight="bold" fill="#e2382a" text-anchor="middle" x="124.50" y="400.10" >31</text>
<text font-family="'Liberation Sans', sans-serif" font-size="7.3" font-weight="bold" fill="#1e1a1b" text-anchor="middle" x="146.90" y="390.10" >60</text>
<text font-family="'Liberation Sans', sans-serif" font-size="7.3" font-weight="bold" fill="#e2382a" text-anchor="middle" x="146.90" y="400.10" >24</text>
<text font-family="'Liberation Sans', sans-serif" font-size="7.3" font-weight="bold" fill="#1e1a1b" text-anchor="middle" x="169.20" y="390.10" >47</text>
<text font-family="'Liberation Sans', sans-serif" font-size="7.3" font-weight="bold" fill="#e2382a" text-anchor="middle" x="169.20" y="400.10" >14</text>
<text font-family="'Liberation Sans', sans-serif" font-size="7.3" font-weight="bold" fill="#1e1a1b" text-anchor="middle" x="192.10" y="390.10" >31</text>
<text font-family="'Liberation Sans', sans-serif" font-size="7.3" font-weight="bold" fill="#e2382a" text-anchor="middle" x="192.10" y="400.10" >11</text>
<polyline points="55.0,232.2 56.4,232.2 56.4,233.6 57.8,233.6 57.8,234.9 59.2,234.9 59.2,236.3 60.6,236.3 60.6,237.6 62.0,237.6 62.0,239.0 63.6,239.0 63.6,240.6 65.1,240.6 65.1,242.1 66.7,242.1 66.7,243.7 68.2,243.7 68.2,244.4 69.6,244.4 69.6,245.1 71.0,245.1 71.0,245.9 72.5,245.9 72.5,246.6 74.0,246.6 74.0,247.5 75.4,247.5 75.4,248.4 76.0,248.4 76.0,249.9 76.6,249.9 76.6,251.4 77.2,251.4 77.2,253.0 77.8,253.0 77.8,254.5 78.4,254.5 78.4,256.0 79.9,256.0 79.9,256.6 81.5,256.6 81.5,257.1 83.0,257.1 83.0,257.7 84.2,257.7 84.2,259.3 85.3,259.3 85.3,260.8 86.5,260.8 86.5,262.4 88.0,262.4 88.0,263.0 89.5,263.0 89.5,263.5 90.9,263.5 90.9,264.1 92.4,264.1 92.4,264.7 93.9,264.7 93.9,265.0 95.3,265.0 95.3,265.3 96.8,265.3 96.8,265.6 98.2,265.6 98.2,265.9 99.7,265.9 99.7,266.3 101.1,266.3 101.1,266.8 102.5,266.8 102.5,267.2 104.0,267.2 104.0,267.6 105.2,267.6 105.2,268.2 106.4,268.2 106.4,268.8 107.6,268.8 107.6,269.4 108.7,269.4 108.7,270.9 109.9,270.9 109.9,272.5 111.0,272.5 111.0,274.0 111.8,274.0 111.8,275.4 112.6,275.4 112.6,276.7 113.4,276.7 113.4,278.1 114.9,278.1 114.9,278.7 116.3,278.7 116.3,279.3 117.8,279.3 117.8,279.9 119.2,279.9 119.2,280.5 123.5,280.5 123.5,282.0 141.0,282.0 141.0,282.0 142.2,282.0 142.2,284.4 162.0,284.4 162.0,284.4 166.7,284.4 166.7,287.9 177.2,287.9 177.2,287.9 178.4,287.9 178.4,293.1 191.8,293.1 191.8,293.1" fill="none" stroke="#e2382a" stroke-width="1.25" stroke-linejoin="round" />
<polyline points="55.0,232.2 56.4,232.2 56.4,233.6 57.8,233.6 57.8,234.9 59.2,234.9 59.2,236.3" fill="none" stroke="#e2382a" stroke-width="1.8" stroke-linejoin="round" />
<line x1="89.10" y1="261.90" x2="89.10" y2="264.90" stroke="#e2382a" stroke-width="0.9" />
<line x1="130.40" y1="280.50" x2="130.40" y2="283.50" stroke="#e2382a" stroke-width="0.9" />
<line x1="106.90" y1="267.50" x2="106.90" y2="270.50" stroke="#e2382a" stroke-width="0.9" />
<line x1="138.40" y1="280.50" x2="138.40" y2="283.50" stroke="#e2382a" stroke-width="0.9" />
<line x1="141.30" y1="281.20" x2="141.30" y2="284.20" stroke="#e2382a" stroke-width="0.9" />
<line x1="65.80" y1="241.30" x2="65.80" y2="244.30" stroke="#e2382a" stroke-width="0.9" />
<line x1="58.80" y1="234.40" x2="58.80" y2="237.40" stroke="#e2382a" stroke-width="0.9" />
<line x1="169.90" y1="286.40" x2="169.90" y2="289.40" stroke="#e2382a" stroke-width="0.9" />
<line x1="92.00" y1="263.00" x2="92.00" y2="266.00" stroke="#e2382a" stroke-width="0.9" />
<line x1="88.60" y1="261.70" x2="88.60" y2="264.70" stroke="#e2382a" stroke-width="0.9" />
<line x1="191.20" y1="291.60" x2="191.20" y2="294.60" stroke="#e2382a" stroke-width="0.9" />
<line x1="120.40" y1="279.40" x2="120.40" y2="282.40" stroke="#e2382a" stroke-width="0.9" />
<line x1="169.80" y1="286.40" x2="169.80" y2="289.40" stroke="#e2382a" stroke-width="0.9" />
<line x1="121.20" y1="279.70" x2="121.20" y2="282.70" stroke="#e2382a" stroke-width="0.9" />
<line x1="143.10" y1="282.90" x2="143.10" y2="285.90" stroke="#e2382a" stroke-width="0.9" />
<line x1="77.30" y1="251.70" x2="77.30" y2="254.70" stroke="#e2382a" stroke-width="0.9" />
<line x1="142.60" y1="282.90" x2="142.60" y2="285.90" stroke="#e2382a" stroke-width="0.9" />
<line x1="174.00" y1="286.40" x2="174.00" y2="289.40" stroke="#e2382a" stroke-width="0.9" />
<line x1="127.50" y1="280.50" x2="127.50" y2="283.50" stroke="#e2382a" stroke-width="0.9" />
<line x1="156.90" y1="282.90" x2="156.90" y2="285.90" stroke="#e2382a" stroke-width="0.9" />
<line x1="147.50" y1="282.90" x2="147.50" y2="285.90" stroke="#e2382a" stroke-width="0.9" />
<line x1="65.60" y1="241.10" x2="65.60" y2="244.10" stroke="#e2382a" stroke-width="0.9" />
<line x1="159.20" y1="282.90" x2="159.20" y2="285.90" stroke="#e2382a" stroke-width="0.9" />
<line x1="136.70" y1="280.50" x2="136.70" y2="283.50" stroke="#e2382a" stroke-width="0.9" />
<line x1="97.60" y1="264.30" x2="97.60" y2="267.30" stroke="#e2382a" stroke-width="0.9" />
<line x1="61.20" y1="236.70" x2="61.20" y2="239.70" stroke="#e2382a" stroke-width="0.9" />
<line x1="173.70" y1="286.40" x2="173.70" y2="289.40" stroke="#e2382a" stroke-width="0.9" />
<line x1="120.70" y1="279.50" x2="120.70" y2="282.50" stroke="#e2382a" stroke-width="0.9" />
<line x1="153.90" y1="282.90" x2="153.90" y2="285.90" stroke="#e2382a" stroke-width="0.9" />
<line x1="175.50" y1="286.40" x2="175.50" y2="289.40" stroke="#e2382a" stroke-width="0.9" />
<polyline points="54.4,232.2 55.7,232.2 55.7,233.5 57.0,233.5 57.0,234.8 58.4,234.8 58.4,236.0 59.7,236.0 59.7,237.3 61.2,237.3 61.2,238.2 62.6,238.2 62.6,239.1 64.0,239.1 64.0,239.9 65.5,239.9 65.5,240.8 67.0,240.8 67.0,241.4 68.5,241.4 68.5,241.9 69.9,241.9 69.9,242.5 71.4,242.5 71.4,243.1 72.9,243.1 72.9,243.8 74.3,243.8 74.3,244.6 75.8,244.6 75.8,245.3 77.2,245.3 77.2,246.0 78.7,246.0 78.7,246.9 80.1,246.9 80.1,247.8 81.5,247.8 81.5,248.6 83.0,248.6 83.0,249.5 84.5,249.5 84.5,250.5 86.0,250.5 86.0,251.6 87.4,251.6 87.4,252.6 88.9,252.6 88.9,253.6 92.4,253.6 92.4,254.0 93.9,254.0 93.9,254.5 95.3,254.5 95.3,255.0 96.8,255.0 96.8,255.5 98.2,255.5 98.2,256.0 99.7,256.0 99.7,257.0 101.1,257.0 101.1,258.0 102.5,258.0 102.5,259.0 104.0,259.0 104.0,260.0 105.2,260.0 105.2,261.2 106.4,261.2 106.4,262.3 107.6,262.3 107.6,263.5 109.0,263.5 109.0,263.8 110.5,263.8 110.5,264.1 112.0,264.1 112.0,264.4 113.4,264.4 113.4,264.7 114.9,264.7 114.9,265.6 116.3,265.6 116.3,266.4 117.8,266.4 117.8,267.3 119.2,267.3 119.2,268.2 120.6,268.2 120.6,268.4 122.0,268.4 122.0,268.6 123.3,268.6 123.3,268.8 124.7,268.8 124.7,269.0 126.2,269.0 126.2,269.5 127.8,269.5 127.8,270.1 129.3,270.1 129.3,270.6 137.5,270.6 137.5,270.6 139.1,270.6 139.1,271.7 140.6,271.7 140.6,272.8 142.2,272.8 142.2,273.9 143.6,273.9 143.6,274.5 145.1,274.5 145.1,275.0 146.6,275.0 146.6,275.6 148.0,275.6 148.0,276.2 149.6,276.2 149.6,276.5 151.1,276.5 151.1,276.8 152.7,276.8 152.7,277.1 154.3,277.1 154.3,277.4 155.8,277.4 155.8,277.7 157.4,277.7 157.4,278.0 158.8,278.0 158.8,279.3 160.3,279.3 160.3,280.6 161.8,280.6 161.8,281.9 163.2,281.9 163.2,283.2 169.0,283.2 169.0,283.2 177.2,283.2 177.2,285.0 183.0,285.0 183.0,289.0 191.2,289.0 191.2,291.4" fill="none" stroke="#000" stroke-width="1.35" stroke-linejoin="round" />
<polyline points="54.4,232.2 55.7,232.2 55.7,233.5 57.0,233.5 57.0,234.8 58.4,234.8 58.4,236.0 59.7,236.0 59.7,237.3 61.2,237.3 61.2,238.2 62.6,238.2 62.6,239.1 64.0,239.1 64.0,239.9 65.5,239.9 65.5,240.8 67.0,240.8 67.0,241.4 68.5,241.4 68.5,241.9 69.9,241.9 69.9,242.5 71.4,242.5 71.4,243.1 72.9,243.1 72.9,243.8 74.3,243.8 74.3,244.6 75.8,244.6 75.8,245.3 77.2,245.3 77.2,246.0 78.7,246.0 78.7,246.9 80.1,246.9 80.1,247.8 81.5,247.8 81.5,248.6 83.0,248.6 83.0,249.5 84.5,249.5 84.5,250.5 86.0,250.5 86.0,251.6 87.4,251.6 87.4,252.6 88.9,252.6 88.9,253.6 92.4,253.6 92.4,254.0 93.9,254.0 93.9,254.5 95.3,254.5 95.3,255.0 96.8,255.0 96.8,255.5 98.2,255.5 98.2,256.0 99.7,256.0 99.7,257.0 101.1,257.0 101.1,258.0 102.5,258.0 102.5,259.0 104.0,259.0 104.0,260.0 105.2,260.0 105.2,261.2 106.4,261.2 106.4,262.3 107.6,262.3 107.6,263.5 109.0,263.5 109.0,263.8 110.5,263.8 110.5,264.1 112.0,264.1 112.0,264.4 113.4,264.4 113.4,264.7 114.9,264.7 114.9,265.6 116.3,265.6 116.3,266.4 117.8,266.4 117.8,267.3 119.2,267.3 119.2,268.2 120.6,268.2 120.6,268.4 122.0,268.4 122.0,268.6 123.3,268.6 123.3,268.8 124.7,268.8 124.7,269.0 126.2,269.0 126.2,269.5 127.8,269.5 127.8,270.1 129.3,270.1 129.3,270.6 137.5,270.6 137.5,270.6 139.1,270.6 139.1,271.7 140.6,271.7 140.6,272.8 142.2,272.8 142.2,273.9 143.6,273.9 143.6,274.5 145.1,274.5 145.1,275.0 146.6,275.0 146.6,275.6 148.0,275.6 148.0,276.2 149.6,276.2 149.6,276.5 151.1,276.5 151.1,276.8 152.7,276.8 152.7,277.1 154.3,277.1 154.3,277.4 155.8,277.4 155.8,277.7 157.4,277.7 157.4,278.0 158.8,278.0 158.8,279.3 160.3,279.3 160.3,280.6 161.8,280.6 161.8,281.9 163.2,281.9 163.2,283.2" fill="none" stroke="#000" stroke-width="2.1" stroke-linejoin="round" />
<line x1="152.70" y1="275.60" x2="152.70" y2="278.60" stroke="#000" stroke-width="1.0" />
<line x1="180.60" y1="285.80" x2="180.60" y2="288.80" stroke="#000" stroke-width="1.0" />
<line x1="109.60" y1="262.40" x2="109.60" y2="265.40" stroke="#000" stroke-width="1.0" />
<line x1="164.40" y1="281.70" x2="164.40" y2="284.70" stroke="#000" stroke-width="1.0" />
<line x1="116.30" y1="265.00" x2="116.30" y2="268.00" stroke="#000" stroke-width="1.0" />
<line x1="182.50" y1="287.20" x2="182.50" y2="290.20" stroke="#000" stroke-width="1.0" />
<line x1="174.90" y1="283.00" x2="174.90" y2="286.00" stroke="#000" stroke-width="1.0" />
<line x1="69.50" y1="240.90" x2="69.50" y2="243.90" stroke="#000" stroke-width="1.0" />
<line x1="74.70" y1="243.30" x2="74.70" y2="246.30" stroke="#000" stroke-width="1.0" />
<line x1="85.60" y1="249.80" x2="85.60" y2="252.80" stroke="#000" stroke-width="1.0" />
<line x1="186.50" y1="288.50" x2="186.50" y2="291.50" stroke="#000" stroke-width="1.0" />
<line x1="115.20" y1="264.30" x2="115.20" y2="267.30" stroke="#000" stroke-width="1.0" />
<line x1="140.90" y1="271.50" x2="140.90" y2="274.50" stroke="#000" stroke-width="1.0" />
<line x1="97.00" y1="254.10" x2="97.00" y2="257.10" stroke="#000" stroke-width="1.0" />
<line x1="124.80" y1="267.50" x2="124.80" y2="270.50" stroke="#000" stroke-width="1.0" />
<line x1="108.40" y1="262.20" x2="108.40" y2="265.20" stroke="#000" stroke-width="1.0" />
<line x1="103.70" y1="258.30" x2="103.70" y2="261.30" stroke="#000" stroke-width="1.0" />
<line x1="135.30" y1="269.10" x2="135.30" y2="272.10" stroke="#000" stroke-width="1.0" />
<line x1="135.20" y1="269.10" x2="135.20" y2="272.10" stroke="#000" stroke-width="1.0" />
<line x1="178.30" y1="284.20" x2="178.30" y2="287.20" stroke="#000" stroke-width="1.0" />
<line x1="148.30" y1="274.80" x2="148.30" y2="277.80" stroke="#000" stroke-width="1.0" />
<line x1="181.60" y1="286.50" x2="181.60" y2="289.50" stroke="#000" stroke-width="1.0" />
<line x1="171.80" y1="282.30" x2="171.80" y2="285.30" stroke="#000" stroke-width="1.0" />
<line x1="190.00" y1="289.50" x2="190.00" y2="292.50" stroke="#000" stroke-width="1.0" />
<line x1="146.90" y1="274.30" x2="146.90" y2="277.30" stroke="#000" stroke-width="1.0" />
<line x1="78.40" y1="245.20" x2="78.40" y2="248.20" stroke="#000" stroke-width="1.0" />
<line x1="172.40" y1="282.40" x2="172.40" y2="285.40" stroke="#000" stroke-width="1.0" />
<line x1="186.40" y1="288.50" x2="186.40" y2="291.50" stroke="#000" stroke-width="1.0" />
<line x1="178.40" y1="284.30" x2="178.40" y2="287.30" stroke="#000" stroke-width="1.0" />
<line x1="133.10" y1="269.10" x2="133.10" y2="272.10" stroke="#000" stroke-width="1.0" />
<line x1="152.60" y1="275.60" x2="152.60" y2="278.60" stroke="#000" stroke-width="1.0" />
<line x1="84.90" y1="249.30" x2="84.90" y2="252.30" stroke="#000" stroke-width="1.0" />
<line x1="168.50" y1="281.70" x2="168.50" y2="284.70" stroke="#000" stroke-width="1.0" />
<line x1="133.70" y1="269.10" x2="133.70" y2="272.10" stroke="#000" stroke-width="1.0" />
<line x1="94.80" y1="253.30" x2="94.80" y2="256.30" stroke="#000" stroke-width="1.0" />
<line x1="65.00" y1="239.00" x2="65.00" y2="242.00" stroke="#000" stroke-width="1.0" />
<line x1="171.50" y1="282.30" x2="171.50" y2="285.30" stroke="#000" stroke-width="1.0" />
<line x1="189.80" y1="289.50" x2="189.80" y2="292.50" stroke="#000" stroke-width="1.0" />
<line x1="68.30" y1="240.40" x2="68.30" y2="243.40" stroke="#000" stroke-width="1.0" />
<line x1="164.30" y1="281.70" x2="164.30" y2="284.70" stroke="#000" stroke-width="1.0" />
<line x1="111.70" y1="262.90" x2="111.70" y2="265.90" stroke="#000" stroke-width="1.0" />
<line x1="76.70" y1="244.30" x2="76.70" y2="247.30" stroke="#000" stroke-width="1.0" />
<line x1="96.00" y1="253.70" x2="96.00" y2="256.70" stroke="#000" stroke-width="1.0" />
<line x1="160.00" y1="278.90" x2="160.00" y2="281.90" stroke="#000" stroke-width="1.0" />
<line x1="174.00" y1="282.80" x2="174.00" y2="285.80" stroke="#000" stroke-width="1.0" />
<line x1="62.40" y1="237.40" x2="62.40" y2="240.40" stroke="#000" stroke-width="1.0" />
<line x1="139.20" y1="270.30" x2="139.20" y2="273.30" stroke="#000" stroke-width="1.0" />
<line x1="62.50" y1="237.50" x2="62.50" y2="240.50" stroke="#000" stroke-width="1.0" />
<line x1="153.20" y1="275.70" x2="153.20" y2="278.70" stroke="#000" stroke-width="1.0" />
<line x1="101.00" y1="256.40" x2="101.00" y2="259.40" stroke="#000" stroke-width="1.0" />
<line x1="175.10" y1="283.00" x2="175.10" y2="286.00" stroke="#000" stroke-width="1.0" />
<line x1="188.60" y1="289.10" x2="188.60" y2="292.10" stroke="#000" stroke-width="1.0" />
<line x1="124.50" y1="267.50" x2="124.50" y2="270.50" stroke="#000" stroke-width="1.0" />
<line x1="191.00" y1="289.80" x2="191.00" y2="292.80" stroke="#000" stroke-width="1.0" />
<line x1="98.10" y1="254.50" x2="98.10" y2="257.50" stroke="#000" stroke-width="1.0" />
<line x1="66.80" y1="239.80" x2="66.80" y2="242.80" stroke="#000" stroke-width="1.0" />
<line x1="137.20" y1="269.10" x2="137.20" y2="272.10" stroke="#000" stroke-width="1.0" />
<line x1="60.60" y1="236.40" x2="60.60" y2="239.40" stroke="#000" stroke-width="1.0" />
<line x1="83.00" y1="248.00" x2="83.00" y2="251.00" stroke="#000" stroke-width="1.0" />
<line x1="111.40" y1="262.80" x2="111.40" y2="265.80" stroke="#000" stroke-width="1.0" />
<rect x="279.8" y="230.3" width="146.8" height="122.80000000000001" fill="none" stroke="#111" stroke-width="1.3"/>
<line x1="277.40" y1="234.60" x2="279.80" y2="234.60" stroke="#1e1a1b" stroke-width="1.0" />
<text font-family="'Liberation Sans', sans-serif" font-size="9.2" font-weight="bold" fill="#1e1a1b" text-anchor="middle" textLength="10.6" lengthAdjust="spacingAndGlyphs" transform="translate(275.80,234.60) rotate(-90)" x="0" y="0" >1.0</text>
<line x1="277.40" y1="257.42" x2="279.80" y2="257.42" stroke="#1e1a1b" stroke-width="1.0" />
<text font-family="'Liberation Sans', sans-serif" font-size="9.2" font-weight="bold" fill="#1e1a1b" text-anchor="middle" textLength="10.6" lengthAdjust="spacingAndGlyphs" transform="translate(275.80,257.42) rotate(-90)" x="0" y="0" >0.8</text>
<line x1="277.40" y1="280.24" x2="279.80" y2="280.24" stroke="#1e1a1b" stroke-width="1.0" />
<text font-family="'Liberation Sans', sans-serif" font-size="9.2" font-weight="bold" fill="#1e1a1b" text-anchor="middle" textLength="10.6" lengthAdjust="spacingAndGlyphs" transform="translate(275.80,280.24) rotate(-90)" x="0" y="0" >0.6</text>
<line x1="277.40" y1="303.06" x2="279.80" y2="303.06" stroke="#1e1a1b" stroke-width="1.0" />
<text font-family="'Liberation Sans', sans-serif" font-size="9.2" font-weight="bold" fill="#1e1a1b" text-anchor="middle" textLength="10.6" lengthAdjust="spacingAndGlyphs" transform="translate(275.80,303.06) rotate(-90)" x="0" y="0" >0.4</text>
<line x1="277.40" y1="325.88" x2="279.80" y2="325.88" stroke="#1e1a1b" stroke-width="1.0" />
<text font-family="'Liberation Sans', sans-serif" font-size="9.2" font-weight="bold" fill="#1e1a1b" text-anchor="middle" textLength="10.6" lengthAdjust="spacingAndGlyphs" transform="translate(275.80,325.88) rotate(-90)" x="0" y="0" >0.2</text>
<line x1="277.40" y1="348.70" x2="279.80" y2="348.70" stroke="#1e1a1b" stroke-width="1.0" />
<text font-family="'Liberation Sans', sans-serif" font-size="9.2" font-weight="bold" fill="#1e1a1b" text-anchor="middle" textLength="10.6" lengthAdjust="spacingAndGlyphs" transform="translate(275.80,348.70) rotate(-90)" x="0" y="0" >0.0</text>
<line x1="284.40" y1="353.10" x2="284.40" y2="355.70" stroke="#1e1a1b" stroke-width="1.0" />
<text font-family="'Liberation Sans', sans-serif" font-size="8.2" font-weight="bold" fill="#1e1a1b" text-anchor="middle" textLength="4.4" lengthAdjust="spacingAndGlyphs" x="284.40" y="363.80" >0</text>
<line x1="307.13" y1="353.10" x2="307.13" y2="355.70" stroke="#1e1a1b" stroke-width="1.0" />
<text font-family="'Liberation Sans', sans-serif" font-size="8.2" font-weight="bold" fill="#1e1a1b" text-anchor="middle" textLength="9.0" lengthAdjust="spacingAndGlyphs" x="307.13" y="363.80" >10</text>
<line x1="329.86" y1="353.10" x2="329.86" y2="355.70" stroke="#1e1a1b" stroke-width="1.0" />
<text font-family="'Liberation Sans', sans-serif" font-size="8.2" font-weight="bold" fill="#1e1a1b" text-anchor="middle" textLength="9.0" lengthAdjust="spacingAndGlyphs" x="329.86" y="363.80" >20</text>
<line x1="352.59" y1="353.10" x2="352.59" y2="355.70" stroke="#1e1a1b" stroke-width="1.0" />
<text font-family="'Liberation Sans', sans-serif" font-size="8.2" font-weight="bold" fill="#1e1a1b" text-anchor="middle" textLength="9.0" lengthAdjust="spacingAndGlyphs" x="352.59" y="363.80" >30</text>
<line x1="375.32" y1="353.10" x2="375.32" y2="355.70" stroke="#1e1a1b" stroke-width="1.0" />
<text font-family="'Liberation Sans', sans-serif" font-size="8.2" font-weight="bold" fill="#1e1a1b" text-anchor="middle" textLength="9.0" lengthAdjust="spacingAndGlyphs" x="375.32" y="363.80" >40</text>
<line x1="398.05" y1="353.10" x2="398.05" y2="355.70" stroke="#1e1a1b" stroke-width="1.0" />
<text font-family="'Liberation Sans', sans-serif" font-size="8.2" font-weight="bold" fill="#1e1a1b" text-anchor="middle" textLength="9.0" lengthAdjust="spacingAndGlyphs" x="398.05" y="363.80" >50</text>
<line x1="420.78" y1="353.10" x2="420.78" y2="355.70" stroke="#1e1a1b" stroke-width="1.0" />
<text font-family="'Liberation Sans', sans-serif" font-size="8.2" font-weight="bold" fill="#1e1a1b" text-anchor="middle" textLength="9.0" lengthAdjust="spacingAndGlyphs" x="420.78" y="363.80" >60</text>
<text font-family="'Liberation Sans', sans-serif" font-size="10.6" font-weight="bold" fill="#1e1a1b" text-anchor="middle" textLength="129.7" lengthAdjust="spacingAndGlyphs" transform="translate(262.30,291.30) rotate(-90)" x="0" y="0" >Progression-free survival</text>
<text font-family="'Liberation Sans', sans-serif" font-size="9.9" font-weight="bold" fill="#1e1a1b" text-anchor="start" textLength="71.0" lengthAdjust="spacingAndGlyphs" x="324.00" y="227.00" >MED23 (9439)</text>
<text font-family="'Liberation Sans', sans-serif" font-size="8.6" font-weight="bold" fill="#1e1a1b" text-anchor="start" textLength="102.5" lengthAdjust="spacingAndGlyphs" x="317.90" y="241.40" >HR = 1.62 (1.12 − 2.33)</text>
<text font-family="'Liberation Sans', sans-serif" font-size="8.6" font-weight="bold" fill="#1e1a1b" text-anchor="start" textLength="87.0" lengthAdjust="spacingAndGlyphs" x="332.80" y="252.50" >logrank P = 0.0094</text>
<text font-family="'Liberation Sans', sans-serif" font-size="10.8" font-weight="bold" fill="#1e1a1b" text-anchor="start" textLength="75.1" lengthAdjust="spacingAndGlyphs" x="323.80" y="374.90" >Time (months)</text>
<text font-family="'Liberation Sans', sans-serif" font-size="7.8" font-weight="bold" fill="#1e1a1b" text-anchor="start" textLength="45.5" lengthAdjust="spacingAndGlyphs" x="283.00" y="331.90" >Expression</text>
<line x1="285.20" y1="338.80" x2="297.90" y2="338.80" stroke="#000" stroke-width="2.3" stroke-linecap="round"/>
<line x1="285.20" y1="346.10" x2="297.90" y2="346.10" stroke="#e2382a" stroke-width="2.3" stroke-linecap="round"/>
<text font-family="'Liberation Sans', sans-serif" font-size="7.8" font-weight="bold" fill="#1e1a1b" text-anchor="start" textLength="13.4" lengthAdjust="spacingAndGlyphs" x="303.50" y="340.60" >low</text>
<text font-family="'Liberation Sans', sans-serif" font-size="7.8" font-weight="bold" fill="#1e1a1b" text-anchor="start" textLength="17.0" lengthAdjust="spacingAndGlyphs" x="303.50" y="348.30" >high</text>
<text font-family="'Liberation Sans', sans-serif" font-size="7.3" font-weight="bold" fill="#1e1a1b" text-anchor="start" textLength="51" lengthAdjust="spacingAndGlyphs" x="280.00" y="383.60" >Number at risk</text>
<text font-family="'Liberation Sans', sans-serif" font-size="7.3" font-weight="bold" fill="#1e1a1b" text-anchor="end" x="278.60" y="391.80" >low</text>
<text font-family="'Liberation Sans', sans-serif" font-size="7.3" font-weight="bold" fill="#e2382a" text-anchor="end" x="279.80" y="401.20" >high</text>
<text font-family="'Liberation Sans', sans-serif" font-size="7.3" font-weight="bold" fill="#1e1a1b" text-anchor="middle" x="286.00" y="391.80" >91</text>
<text font-family="'Liberation Sans', sans-serif" font-size="7.3" font-weight="bold" fill="#e2382a" text-anchor="middle" x="286.00" y="401.20" >279</text>
<text font-family="'Liberation Sans', sans-serif" font-size="7.3" font-weight="bold" fill="#1e1a1b" text-anchor="middle" x="309.20" y="391.80" >63</text>
<text font-family="'Liberation Sans', sans-serif" font-size="7.3" font-weight="bold" fill="#e2382a" text-anchor="middle" x="309.20" y="401.20" >150</text>
<text font-family="'Liberation Sans', sans-serif" font-size="7.3" font-weight="bold" fill="#1e1a1b" text-anchor="middle" x="331.70" y="391.80" >34</text>
<text font-family="'Liberation Sans', sans-serif" font-size="7.3" font-weight="bold" fill="#e2382a" text-anchor="middle" x="331.70" y="401.20" >76</text>
<text font-family="'Liberation Sans', sans-serif" font-size="7.3" font-weight="bold" fill="#1e1a1b" text-anchor="middle" x="354.50" y="391.80" >22</text>
<text font-family="'Liberation Sans', sans-serif" font-size="7.3" font-weight="bold" fill="#e2382a" text-anchor="middle" x="354.50" y="401.20" >45</text>
<text font-family="'Liberation Sans', sans-serif" font-size="7.3" font-weight="bold" fill="#1e1a1b" text-anchor="middle" x="377.00" y="391.80" >13</text>
<text font-family="'Liberation Sans', sans-serif" font-size="7.3" font-weight="bold" fill="#e2382a" text-anchor="middle" x="377.00" y="401.20" >34</text>
<text font-family="'Liberation Sans', sans-serif" font-size="7.3" font-weight="bold" fill="#1e1a1b" text-anchor="middle" x="399.70" y="391.80" >11</text>
<text font-family="'Liberation Sans', sans-serif" font-size="7.3" font-weight="bold" fill="#e2382a" text-anchor="middle" x="399.70" y="401.20" >21</text>
<text font-family="'Liberation Sans', sans-serif" font-size="7.3" font-weight="bold" fill="#1e1a1b" text-anchor="middle" x="421.00" y="391.80" >8</text>
<text font-family="'Liberation Sans', sans-serif" font-size="7.3" font-weight="bold" fill="#e2382a" text-anchor="middle" x="421.00" y="401.20" >12</text>
<polyline points="284.5,234.6 286.0,234.6 286.0,235.9 287.4,235.9 287.4,237.2 288.9,237.2 288.9,238.6 290.4,238.6 290.4,239.9 291.3,239.9 291.3,241.3 292.1,241.3 292.1,242.8 293.0,242.8 293.0,244.2 293.9,244.2 293.9,245.7 294.4,245.7 294.4,247.3 294.8,247.3 294.8,248.8 295.3,248.8 295.3,250.4 295.7,250.4 295.7,251.9 296.2,251.9 296.2,253.5 296.9,253.5 296.9,255.0 297.6,255.0 297.6,256.6 298.3,256.6 298.3,258.1 299.0,258.1 299.0,259.7 299.7,259.7 299.7,261.2 300.4,261.2 300.4,262.4 301.0,262.4 301.0,263.6 301.6,263.6 301.6,264.8 302.3,264.8 302.3,266.0 303.0,266.0 303.0,267.3 303.8,267.3 303.8,268.6 304.5,268.6 304.5,269.9 305.3,269.9 305.3,271.2 306.0,271.2 306.0,272.5 306.9,272.5 306.9,273.8 307.8,273.8 307.8,275.1 308.7,275.1 308.7,276.4 309.6,276.4 309.6,277.7 310.7,277.7 310.7,278.9 311.9,278.9 311.9,280.1 313.0,280.1 313.0,281.3 314.3,281.3 314.3,282.3 315.6,282.3 315.6,283.3 316.9,283.3 316.9,284.3 318.3,284.3 318.3,285.5 319.6,285.5 319.6,286.8 321.0,286.8 321.0,288.0 322.6,288.0 322.6,289.2 324.1,289.2 324.1,290.4 325.7,290.4 325.7,291.6 327.1,291.6 327.1,292.6 328.6,292.6 328.6,293.6 330.0,293.6 330.0,294.6 331.5,294.6 331.5,295.5 332.9,295.5 332.9,296.5 334.4,296.5 334.4,297.4 335.6,297.4 335.6,298.1 336.9,298.1 336.9,298.9 338.1,298.9 338.1,299.6 339.4,299.6 339.4,300.4 349.6,300.4 349.6,301.8 354.0,301.8 354.0,305.2 359.8,305.2 359.8,306.2 365.7,306.2 365.7,308.1 374.4,308.1 374.4,308.4 378.8,308.4 378.8,310.6 383.2,310.6 383.2,312.8 393.4,312.8 393.4,312.8 396.3,312.8 396.3,314.2 403.6,314.2 403.6,315.7 410.9,315.7 410.9,317.9 416.8,317.9 416.8,320.1 421.9,320.1 421.9,321.8" fill="none" stroke="#e2382a" stroke-width="1.25" stroke-linejoin="round" />
<polyline points="284.5,234.6 286.0,234.6 286.0,235.9 287.4,235.9 287.4,237.2 288.9,237.2 288.9,238.6 290.4,238.6 290.4,239.9 291.3,239.9 291.3,241.3 292.1,241.3 292.1,242.8 293.0,242.8 293.0,244.2 293.9,244.2 293.9,245.7 294.4,245.7 294.4,247.3 294.8,247.3 294.8,248.8 295.3,248.8 295.3,250.4 295.7,250.4 295.7,251.9 296.2,251.9 296.2,253.5 296.9,253.5 296.9,255.0 297.6,255.0 297.6,256.6 298.3,256.6 298.3,258.1 299.0,258.1 299.0,259.7 299.7,259.7 299.7,261.2 300.4,261.2 300.4,262.4 301.0,262.4 301.0,263.6 301.6,263.6 301.6,264.8 302.3,264.8 302.3,266.0 303.0,266.0 303.0,267.3 303.8,267.3 303.8,268.6 304.5,268.6 304.5,269.9 305.3,269.9 305.3,271.2 306.0,271.2 306.0,272.5 306.9,272.5 306.9,273.8 307.8,273.8 307.8,275.1 308.7,275.1 308.7,276.4 309.6,276.4 309.6,277.7 310.7,277.7 310.7,278.9 311.9,278.9 311.9,280.1 313.0,280.1 313.0,281.3 314.3,281.3 314.3,282.3 315.6,282.3 315.6,283.3 316.9,283.3 316.9,284.3 318.3,284.3 318.3,285.5 319.6,285.5 319.6,286.8 321.0,286.8 321.0,288.0 322.6,288.0 322.6,289.2 324.1,289.2 324.1,290.4 325.7,290.4 325.7,291.6 327.1,291.6 327.1,292.6 328.6,292.6 328.6,293.6 330.0,293.6 330.0,294.6 331.5,294.6 331.5,295.5 332.9,295.5 332.9,296.5 334.4,296.5 334.4,297.4 335.6,297.4 335.6,298.1 336.9,298.1 336.9,298.9 338.1,298.9 338.1,299.6 339.4,299.6 339.4,300.4 349.6,300.4 349.6,301.8" fill="none" stroke="#e2382a" stroke-width="2.4" stroke-linejoin="round" />
<line x1="369.20" y1="306.70" x2="369.20" y2="309.70" stroke="#e2382a" stroke-width="0.9" />
<line x1="307.60" y1="273.40" x2="307.60" y2="276.40" stroke="#e2382a" stroke-width="0.9" />
<line x1="292.20" y1="241.50" x2="292.20" y2="244.50" stroke="#e2382a" stroke-width="0.9" />
<line x1="404.00" y1="314.30" x2="404.00" y2="317.30" stroke="#e2382a" stroke-width="0.9" />
<line x1="329.00" y1="292.40" x2="329.00" y2="295.40" stroke="#e2382a" stroke-width="0.9" />
<line x1="416.30" y1="318.40" x2="416.30" y2="321.40" stroke="#e2382a" stroke-width="0.9" />
<line x1="407.90" y1="315.50" x2="407.90" y2="318.50" stroke="#e2382a" stroke-width="0.9" />
<line x1="337.70" y1="297.90" x2="337.70" y2="300.90" stroke="#e2382a" stroke-width="0.9" />
<line x1="348.80" y1="300.20" x2="348.80" y2="303.20" stroke="#e2382a" stroke-width="0.9" />
<line x1="356.90" y1="304.20" x2="356.90" y2="307.20" stroke="#e2382a" stroke-width="0.9" />
<line x1="373.70" y1="306.90" x2="373.70" y2="309.90" stroke="#e2382a" stroke-width="0.9" />
<line x1="367.20" y1="306.70" x2="367.20" y2="309.70" stroke="#e2382a" stroke-width="0.9" />
<line x1="362.20" y1="305.50" x2="362.20" y2="308.50" stroke="#e2382a" stroke-width="0.9" />
<line x1="370.50" y1="306.80" x2="370.50" y2="309.80" stroke="#e2382a" stroke-width="0.9" />
<line x1="413.90" y1="317.50" x2="413.90" y2="320.50" stroke="#e2382a" stroke-width="0.9" />
<line x1="355.20" y1="303.90" x2="355.20" y2="306.90" stroke="#e2382a" stroke-width="0.9" />
<line x1="344.90" y1="299.70" x2="344.90" y2="302.70" stroke="#e2382a" stroke-width="0.9" />
<line x1="384.00" y1="311.30" x2="384.00" y2="314.30" stroke="#e2382a" stroke-width="0.9" />
<line x1="318.70" y1="284.40" x2="318.70" y2="287.40" stroke="#e2382a" stroke-width="0.9" />
<line x1="327.30" y1="291.20" x2="327.30" y2="294.20" stroke="#e2382a" stroke-width="0.9" />
<line x1="418.90" y1="319.30" x2="418.90" y2="322.30" stroke="#e2382a" stroke-width="0.9" />
<line x1="357.10" y1="304.20" x2="357.10" y2="307.20" stroke="#e2382a" stroke-width="0.9" />
<line x1="360.80" y1="305.00" x2="360.80" y2="308.00" stroke="#e2382a" stroke-width="0.9" />
<line x1="288.10" y1="236.30" x2="288.10" y2="239.30" stroke="#e2382a" stroke-width="0.9" />
<line x1="342.70" y1="299.40" x2="342.70" y2="302.40" stroke="#e2382a" stroke-width="0.9" />
<line x1="365.00" y1="306.40" x2="365.00" y2="309.40" stroke="#e2382a" stroke-width="0.9" />
<line x1="289.20" y1="237.30" x2="289.20" y2="240.30" stroke="#e2382a" stroke-width="0.9" />
<line x1="369.90" y1="306.70" x2="369.90" y2="309.70" stroke="#e2382a" stroke-width="0.9" />
<line x1="372.10" y1="306.80" x2="372.10" y2="309.80" stroke="#e2382a" stroke-width="0.9" />
<line x1="294.60" y1="246.70" x2="294.60" y2="249.70" stroke="#e2382a" stroke-width="0.9" />
<line x1="371.40" y1="306.80" x2="371.40" y2="309.80" stroke="#e2382a" stroke-width="0.9" />
<line x1="349.60" y1="300.30" x2="349.60" y2="303.30" stroke="#e2382a" stroke-width="0.9" />
<line x1="378.50" y1="308.90" x2="378.50" y2="311.90" stroke="#e2382a" stroke-width="0.9" />
<line x1="334.20" y1="295.80" x2="334.20" y2="298.80" stroke="#e2382a" stroke-width="0.9" />
<line x1="382.20" y1="310.80" x2="382.20" y2="313.80" stroke="#e2382a" stroke-width="0.9" />
<line x1="386.40" y1="311.30" x2="386.40" y2="314.30" stroke="#e2382a" stroke-width="0.9" />
<line x1="289.50" y1="237.60" x2="289.50" y2="240.60" stroke="#e2382a" stroke-width="0.9" />
<line x1="294.70" y1="246.90" x2="294.70" y2="249.90" stroke="#e2382a" stroke-width="0.9" />
<line x1="378.00" y1="308.70" x2="378.00" y2="311.70" stroke="#e2382a" stroke-width="0.9" />
<line x1="416.90" y1="318.60" x2="416.90" y2="321.60" stroke="#e2382a" stroke-width="0.9" />
<line x1="320.50" y1="286.10" x2="320.50" y2="289.10" stroke="#e2382a" stroke-width="0.9" />
<line x1="348.30" y1="300.10" x2="348.30" y2="303.10" stroke="#e2382a" stroke-width="0.9" />
<line x1="366.70" y1="306.60" x2="366.70" y2="309.60" stroke="#e2382a" stroke-width="0.9" />
<line x1="329.80" y1="293.00" x2="329.80" y2="296.00" stroke="#e2382a" stroke-width="0.9" />
<line x1="335.80" y1="296.70" x2="335.80" y2="299.70" stroke="#e2382a" stroke-width="0.9" />
<line x1="328.80" y1="292.30" x2="328.80" y2="295.30" stroke="#e2382a" stroke-width="0.9" />
<line x1="336.50" y1="297.20" x2="336.50" y2="300.20" stroke="#e2382a" stroke-width="0.9" />
<line x1="367.10" y1="306.60" x2="367.10" y2="309.60" stroke="#e2382a" stroke-width="0.9" />
<line x1="327.20" y1="291.10" x2="327.20" y2="294.10" stroke="#e2382a" stroke-width="0.9" />
<line x1="337.60" y1="297.80" x2="337.60" y2="300.80" stroke="#e2382a" stroke-width="0.9" />
<line x1="391.10" y1="311.30" x2="391.10" y2="314.30" stroke="#e2382a" stroke-width="0.9" />
<line x1="290.10" y1="238.20" x2="290.10" y2="241.20" stroke="#e2382a" stroke-width="0.9" />
<line x1="363.60" y1="305.90" x2="363.60" y2="308.90" stroke="#e2382a" stroke-width="0.9" />
<line x1="386.00" y1="311.30" x2="386.00" y2="314.30" stroke="#e2382a" stroke-width="0.9" />
<line x1="328.50" y1="292.00" x2="328.50" y2="295.00" stroke="#e2382a" stroke-width="0.9" />
<line x1="316.60" y1="282.60" x2="316.60" y2="285.60" stroke="#e2382a" stroke-width="0.9" />
<line x1="395.30" y1="312.20" x2="395.30" y2="315.20" stroke="#e2382a" stroke-width="0.9" />
<line x1="318.80" y1="284.50" x2="318.80" y2="287.50" stroke="#e2382a" stroke-width="0.9" />
<line x1="311.90" y1="278.60" x2="311.90" y2="281.60" stroke="#e2382a" stroke-width="0.9" />
<line x1="345.40" y1="299.70" x2="345.40" y2="302.70" stroke="#e2382a" stroke-width="0.9" />
<polyline points="284.5,234.6 286.0,234.6 286.0,235.5 287.4,235.5 287.4,236.3 288.9,236.3 288.9,237.2 290.4,237.2 290.4,238.1 291.9,238.1 291.9,239.5 293.5,239.5 293.5,240.8 295.0,240.8 295.0,242.2 296.2,242.2 296.2,243.6 297.4,243.6 297.4,245.1 298.5,245.1 298.5,246.6 299.7,246.6 299.7,248.0 300.9,248.0 300.9,249.5 302.0,249.5 302.0,250.9 303.2,250.9 303.2,252.4 304.4,252.4 304.4,253.9 305.9,253.9 305.9,255.4 307.5,255.4 307.5,257.0 309.0,257.0 309.0,258.5 310.2,258.5 310.2,259.8 311.4,259.8 311.4,261.1 312.5,261.1 312.5,262.4 313.7,262.4 313.7,263.7 314.9,263.7 314.9,265.0 316.3,265.0 316.3,265.7 317.8,265.7 317.8,266.4 319.2,266.4 319.2,267.2 320.7,267.2 320.7,267.9 322.2,267.9 322.2,268.8 323.6,268.8 323.6,269.6 325.1,269.6 325.1,270.5 326.6,270.5 326.6,271.4 328.1,271.4 328.1,271.8 329.5,271.8 329.5,272.2 330.9,272.2 330.9,272.7 332.4,272.7 332.4,273.1 333.8,273.1 333.8,273.4 335.3,273.4 335.3,273.7 336.8,273.7 336.8,274.0 338.2,274.0 338.2,274.3 340.8,274.3 340.8,274.8 343.8,274.8 343.8,277.0 348.1,277.0 348.1,277.7 349.6,277.7 349.6,279.9 351.1,279.9 351.1,280.7 352.5,280.7 352.5,288.0 362.7,288.0 362.7,288.2 363.5,288.2 363.5,290.9 368.6,290.9 368.6,291.6 370.0,291.6 370.0,299.3 393.4,299.3 393.4,299.3 394.1,299.3 394.1,303.3 413.1,303.3 413.1,303.3 413.8,303.3 413.8,307.7 421.9,307.7 421.9,307.7" fill="none" stroke="#000" stroke-width="1.35" stroke-linejoin="round" />
<polyline points="284.5,234.6 286.0,234.6 286.0,235.5 287.4,235.5 287.4,236.3 288.9,236.3 288.9,237.2 290.4,237.2 290.4,238.1 291.9,238.1 291.9,239.5 293.5,239.5 293.5,240.8 295.0,240.8 295.0,242.2 296.2,242.2 296.2,243.6 297.4,243.6 297.4,245.1 298.5,245.1 298.5,246.6 299.7,246.6 299.7,248.0 300.9,248.0 300.9,249.5 302.0,249.5 302.0,250.9 303.2,250.9 303.2,252.4 304.4,252.4 304.4,253.9 305.9,253.9 305.9,255.4 307.5,255.4 307.5,257.0 309.0,257.0 309.0,258.5 310.2,258.5 310.2,259.8 311.4,259.8 311.4,261.1 312.5,261.1 312.5,262.4 313.7,262.4 313.7,263.7 314.9,263.7 314.9,265.0 316.3,265.0 316.3,265.7 317.8,265.7 317.8,266.4 319.2,266.4 319.2,267.2 320.7,267.2 320.7,267.9 322.2,267.9 322.2,268.8 323.6,268.8 323.6,269.6 325.1,269.6 325.1,270.5 326.6,270.5 326.6,271.4 328.1,271.4 328.1,271.8 329.5,271.8 329.5,272.2 330.9,272.2 330.9,272.7 332.4,272.7 332.4,273.1 333.8,273.1 333.8,273.4" fill="none" stroke="#000" stroke-width="1.5" stroke-linejoin="round" />
<line x1="381.00" y1="297.80" x2="381.00" y2="300.80" stroke="#000" stroke-width="1.0" />
<line x1="300.30" y1="247.20" x2="300.30" y2="250.20" stroke="#000" stroke-width="1.0" />
<line x1="330.10" y1="270.90" x2="330.10" y2="273.90" stroke="#000" stroke-width="1.0" />
<line x1="331.70" y1="271.40" x2="331.70" y2="274.40" stroke="#000" stroke-width="1.0" />
<line x1="399.40" y1="301.80" x2="399.40" y2="304.80" stroke="#000" stroke-width="1.0" />
<line x1="345.90" y1="275.80" x2="345.90" y2="278.80" stroke="#000" stroke-width="1.0" />
<line x1="402.30" y1="301.80" x2="402.30" y2="304.80" stroke="#000" stroke-width="1.0" />
<line x1="309.40" y1="257.50" x2="309.40" y2="260.50" stroke="#000" stroke-width="1.0" />
<line x1="332.10" y1="271.50" x2="332.10" y2="274.50" stroke="#000" stroke-width="1.0" />
<line x1="374.50" y1="297.80" x2="374.50" y2="300.80" stroke="#000" stroke-width="1.0" />
<line x1="406.30" y1="301.80" x2="406.30" y2="304.80" stroke="#000" stroke-width="1.0" />
<line x1="347.60" y1="276.10" x2="347.60" y2="279.10" stroke="#000" stroke-width="1.0" />
<line x1="317.00" y1="264.50" x2="317.00" y2="267.50" stroke="#000" stroke-width="1.0" />
<line x1="302.90" y1="250.50" x2="302.90" y2="253.50" stroke="#000" stroke-width="1.0" />
<line x1="358.20" y1="286.60" x2="358.20" y2="289.60" stroke="#000" stroke-width="1.0" />
<line x1="312.30" y1="260.70" x2="312.30" y2="263.70" stroke="#000" stroke-width="1.0" />
<line x1="395.70" y1="301.80" x2="395.70" y2="304.80" stroke="#000" stroke-width="1.0" />
<line x1="400.00" y1="301.80" x2="400.00" y2="304.80" stroke="#000" stroke-width="1.0" />
<line x1="311.40" y1="259.60" x2="311.40" y2="262.60" stroke="#000" stroke-width="1.0" />
<line x1="324.20" y1="268.50" x2="324.20" y2="271.50" stroke="#000" stroke-width="1.0" />
<line x1="395.80" y1="301.80" x2="395.80" y2="304.80" stroke="#000" stroke-width="1.0" />
<line x1="373.40" y1="297.80" x2="373.40" y2="300.80" stroke="#000" stroke-width="1.0" />
<line x1="395.70" y1="301.80" x2="395.70" y2="304.80" stroke="#000" stroke-width="1.0" />
<line x1="333.30" y1="271.80" x2="333.30" y2="274.80" stroke="#000" stroke-width="1.0" />
<line x1="304.10" y1="252.00" x2="304.10" y2="255.00" stroke="#000" stroke-width="1.0" />
<line x1="326.00" y1="269.60" x2="326.00" y2="272.60" stroke="#000" stroke-width="1.0" />
<rect x="507.8" y="231.7" width="146.99999999999994" height="122.69999999999999" fill="none" stroke="#111" stroke-width="1.3"/>
<line x1="505.40" y1="236.20" x2="507.80" y2="236.20" stroke="#1e1a1b" stroke-width="1.0" />
<text font-family="'Liberation Sans', sans-serif" font-size="9.2" font-weight="bold" fill="#1e1a1b" text-anchor="middle" textLength="10.6" lengthAdjust="spacingAndGlyphs" transform="translate(503.50,236.20) rotate(-90)" x="0" y="0" >1.0</text>
<line x1="505.40" y1="259.00" x2="507.80" y2="259.00" stroke="#1e1a1b" stroke-width="1.0" />
<text font-family="'Liberation Sans', sans-serif" font-size="9.2" font-weight="bold" fill="#1e1a1b" text-anchor="middle" textLength="10.6" lengthAdjust="spacingAndGlyphs" transform="translate(503.50,259.00) rotate(-90)" x="0" y="0" >0.8</text>
<line x1="505.40" y1="281.80" x2="507.80" y2="281.80" stroke="#1e1a1b" stroke-width="1.0" />
<text font-family="'Liberation Sans', sans-serif" font-size="9.2" font-weight="bold" fill="#1e1a1b" text-anchor="middle" textLength="10.6" lengthAdjust="spacingAndGlyphs" transform="translate(503.50,281.80) rotate(-90)" x="0" y="0" >0.6</text>
<line x1="505.40" y1="304.60" x2="507.80" y2="304.60" stroke="#1e1a1b" stroke-width="1.0" />
<text font-family="'Liberation Sans', sans-serif" font-size="9.2" font-weight="bold" fill="#1e1a1b" text-anchor="middle" textLength="10.6" lengthAdjust="spacingAndGlyphs" transform="translate(503.50,304.60) rotate(-90)" x="0" y="0" >0.4</text>
<line x1="505.40" y1="327.40" x2="507.80" y2="327.40" stroke="#1e1a1b" stroke-width="1.0" />
<text font-family="'Liberation Sans', sans-serif" font-size="9.2" font-weight="bold" fill="#1e1a1b" text-anchor="middle" textLength="10.6" lengthAdjust="spacingAndGlyphs" transform="translate(503.50,327.40) rotate(-90)" x="0" y="0" >0.2</text>
<line x1="505.40" y1="350.20" x2="507.80" y2="350.20" stroke="#1e1a1b" stroke-width="1.0" />
<text font-family="'Liberation Sans', sans-serif" font-size="9.2" font-weight="bold" fill="#1e1a1b" text-anchor="middle" textLength="10.6" lengthAdjust="spacingAndGlyphs" transform="translate(503.50,350.20) rotate(-90)" x="0" y="0" >0.0</text>
<line x1="513.80" y1="354.40" x2="513.80" y2="357.00" stroke="#1e1a1b" stroke-width="1.0" />
<text font-family="'Liberation Sans', sans-serif" font-size="8.2" font-weight="bold" fill="#1e1a1b" text-anchor="middle" textLength="4.4" lengthAdjust="spacingAndGlyphs" x="513.80" y="365.20" >0</text>
<line x1="536.57" y1="354.40" x2="536.57" y2="357.00" stroke="#1e1a1b" stroke-width="1.0" />
<text font-family="'Liberation Sans', sans-serif" font-size="8.2" font-weight="bold" fill="#1e1a1b" text-anchor="middle" textLength="9.0" lengthAdjust="spacingAndGlyphs" x="536.57" y="365.20" >10</text>
<line x1="559.34" y1="354.40" x2="559.34" y2="357.00" stroke="#1e1a1b" stroke-width="1.0" />
<text font-family="'Liberation Sans', sans-serif" font-size="8.2" font-weight="bold" fill="#1e1a1b" text-anchor="middle" textLength="9.0" lengthAdjust="spacingAndGlyphs" x="559.34" y="365.20" >20</text>
<line x1="582.11" y1="354.40" x2="582.11" y2="357.00" stroke="#1e1a1b" stroke-width="1.0" />
<text font-family="'Liberation Sans', sans-serif" font-size="8.2" font-weight="bold" fill="#1e1a1b" text-anchor="middle" textLength="9.0" lengthAdjust="spacingAndGlyphs" x="582.11" y="365.20" >30</text>
<line x1="604.88" y1="354.40" x2="604.88" y2="357.00" stroke="#1e1a1b" stroke-width="1.0" />
<text font-family="'Liberation Sans', sans-serif" font-size="8.2" font-weight="bold" fill="#1e1a1b" text-anchor="middle" textLength="9.0" lengthAdjust="spacingAndGlyphs" x="604.88" y="365.20" >40</text>
<line x1="627.65" y1="354.40" x2="627.65" y2="357.00" stroke="#1e1a1b" stroke-width="1.0" />
<text font-family="'Liberation Sans', sans-serif" font-size="8.2" font-weight="bold" fill="#1e1a1b" text-anchor="middle" textLength="9.0" lengthAdjust="spacingAndGlyphs" x="627.65" y="365.20" >50</text>
<line x1="650.42" y1="354.40" x2="650.42" y2="357.00" stroke="#1e1a1b" stroke-width="1.0" />
<text font-family="'Liberation Sans', sans-serif" font-size="8.2" font-weight="bold" fill="#1e1a1b" text-anchor="middle" textLength="9.0" lengthAdjust="spacingAndGlyphs" x="650.42" y="365.20" >60</text>
<text font-family="'Liberation Sans', sans-serif" font-size="10.6" font-weight="bold" fill="#1e1a1b" text-anchor="middle" textLength="113.3" lengthAdjust="spacingAndGlyphs" transform="translate(493.60,291.70) rotate(-90)" x="0" y="0" >Relapse-free survival</text>
<text font-family="'Liberation Sans', sans-serif" font-size="9.9" font-weight="bold" fill="#1e1a1b" text-anchor="start" textLength="70.4" lengthAdjust="spacingAndGlyphs" x="547.00" y="227.60" >MED23 (9439)</text>
<text font-family="'Liberation Sans', sans-serif" font-size="8.6" font-weight="bold" fill="#1e1a1b" text-anchor="start" textLength="102.0" lengthAdjust="spacingAndGlyphs" x="547.00" y="240.40" >HR = 1.57 (1.05 − 2.35)</text>
<text font-family="'Liberation Sans', sans-serif" font-size="8.6" font-weight="bold" fill="#1e1a1b" text-anchor="start" textLength="78.0" lengthAdjust="spacingAndGlyphs" x="565.00" y="251.30" >logrank P = 0.027</text>
<text font-family="'Liberation Sans', sans-serif" font-size="10.8" font-weight="bold" fill="#1e1a1b" text-anchor="start" textLength="75.9" lengthAdjust="spacingAndGlyphs" x="546.50" y="376.90" >Time (months)</text>
<text font-family="'Liberation Sans', sans-serif" font-size="7.8" font-weight="bold" fill="#1e1a1b" text-anchor="start" textLength="45.5" lengthAdjust="spacingAndGlyphs" x="511.80" y="333.10" >Expression</text>
<line x1="514.00" y1="340.00" x2="526.70" y2="340.00" stroke="#000" stroke-width="2.3" stroke-linecap="round"/>
<line x1="514.00" y1="347.30" x2="526.70" y2="347.30" stroke="#e2382a" stroke-width="2.3" stroke-linecap="round"/>
<text font-family="'Liberation Sans', sans-serif" font-size="7.8" font-weight="bold" fill="#1e1a1b" text-anchor="start" textLength="13.4" lengthAdjust="spacingAndGlyphs" x="532.30" y="341.80" >low</text>
<text font-family="'Liberation Sans', sans-serif" font-size="7.8" font-weight="bold" fill="#1e1a1b" text-anchor="start" textLength="17.0" lengthAdjust="spacingAndGlyphs" x="532.30" y="349.50" >high</text>
<text font-family="'Liberation Sans', sans-serif" font-size="7.3" font-weight="bold" fill="#1e1a1b" text-anchor="start" textLength="51" lengthAdjust="spacingAndGlyphs" x="508.00" y="385.00" >Number at risk</text>
<text font-family="'Liberation Sans', sans-serif" font-size="7.3" font-weight="bold" fill="#1e1a1b" text-anchor="end" x="504.50" y="393.80" >low</text>
<text font-family="'Liberation Sans', sans-serif" font-size="7.3" font-weight="bold" fill="#e2382a" text-anchor="end" x="505.50" y="403.20" >high</text>
<text font-family="'Liberation Sans', sans-serif" font-size="7.3" font-weight="bold" fill="#1e1a1b" text-anchor="middle" x="513.80" y="393.80" >81</text>
<text font-family="'Liberation Sans', sans-serif" font-size="7.3" font-weight="bold" fill="#e2382a" text-anchor="middle" x="513.80" y="403.20" >235</text>
<text font-family="'Liberation Sans', sans-serif" font-size="7.3" font-weight="bold" fill="#1e1a1b" text-anchor="middle" x="537.20" y="393.80" >58</text>
<text font-family="'Liberation Sans', sans-serif" font-size="7.3" font-weight="bold" fill="#e2382a" text-anchor="middle" x="537.20" y="403.20" >136</text>
<text font-family="'Liberation Sans', sans-serif" font-size="7.3" font-weight="bold" fill="#1e1a1b" text-anchor="middle" x="559.00" y="393.80" >34</text>
<text font-family="'Liberation Sans', sans-serif" font-size="7.3" font-weight="bold" fill="#e2382a" text-anchor="middle" x="559.00" y="403.20" >71</text>
<text font-family="'Liberation Sans', sans-serif" font-size="7.3" font-weight="bold" fill="#1e1a1b" text-anchor="middle" x="582.40" y="393.80" >22</text>
<text font-family="'Liberation Sans', sans-serif" font-size="7.3" font-weight="bold" fill="#e2382a" text-anchor="middle" x="582.40" y="403.20" >44</text>
<text font-family="'Liberation Sans', sans-serif" font-size="7.3" font-weight="bold" fill="#1e1a1b" text-anchor="middle" x="604.90" y="393.80" >13</text>
<text font-family="'Liberation Sans', sans-serif" font-size="7.3" font-weight="bold" fill="#e2382a" text-anchor="middle" x="604.90" y="403.20" >34</text>
<text font-family="'Liberation Sans', sans-serif" font-size="7.3" font-weight="bold" fill="#1e1a1b" text-anchor="middle" x="627.70" y="393.80" >10</text>
<text font-family="'Liberation Sans', sans-serif" font-size="7.3" font-weight="bold" fill="#e2382a" text-anchor="middle" x="627.70" y="403.20" >21</text>
<text font-family="'Liberation Sans', sans-serif" font-size="7.3" font-weight="bold" fill="#1e1a1b" text-anchor="middle" x="649.60" y="393.80" >7</text>
<text font-family="'Liberation Sans', sans-serif" font-size="7.3" font-weight="bold" fill="#e2382a" text-anchor="middle" x="649.60" y="403.20" >13</text>
<polyline points="512.8,236.4 514.2,236.4 514.2,236.9 515.5,236.9 515.5,237.3 516.9,237.3 516.9,237.8 517.8,237.8 517.8,239.3 518.6,239.3 518.6,240.8 519.5,240.8 519.5,242.2 520.4,242.2 520.4,243.7 521.0,243.7 521.0,245.1 521.6,245.1 521.6,246.4 522.1,246.4 522.1,247.8 522.7,247.8 522.7,249.2 523.3,249.2 523.3,250.5 523.9,250.5 523.9,251.9 524.6,251.9 524.6,253.3 525.3,253.3 525.3,254.7 526.0,254.7 526.0,256.1 526.7,256.1 526.7,257.5 527.4,257.5 527.4,258.9 528.5,258.9 528.5,260.3 529.7,260.3 529.7,261.8 530.9,261.8 530.9,263.2 532.0,263.2 532.0,264.7 532.8,264.7 532.8,266.1 533.6,266.1 533.6,267.4 534.4,267.4 534.4,268.8 535.1,268.8 535.1,270.2 535.9,270.2 535.9,271.5 536.7,271.5 536.7,272.9 538.3,272.9 538.3,274.5 539.8,274.5 539.8,276.0 541.4,276.0 541.4,277.6 543.0,277.6 543.0,279.1 544.5,279.1 544.5,280.7 546.1,280.7 546.1,282.2 547.5,282.2 547.5,283.7 549.0,283.7 549.0,285.1 550.5,285.1 550.5,286.6 551.9,286.6 551.9,288.1 553.4,288.1 553.4,288.7 554.8,288.7 554.8,289.2 556.2,289.2 556.2,289.8 557.7,289.8 557.7,290.4 559.3,290.4 559.3,291.6 560.8,291.6 560.8,292.7 562.4,292.7 562.4,293.9 564.0,293.9 564.0,294.7 565.5,294.7 565.5,295.4 567.1,295.4 567.1,296.2 570.0,296.2 570.0,297.4 578.1,297.4 578.1,298.2 582.5,298.2 582.5,300.8 589.8,300.8 589.8,301.4 595.7,301.4 595.7,303.3 605.9,303.3 605.9,304.0 610.3,304.0 610.3,307.7 621.9,307.7 621.9,308.1 624.9,308.1 624.9,309.9 630.7,309.9 630.7,311.3 636.5,311.3 636.5,313.5 640.9,313.5 640.9,315.7 650.4,315.7 650.4,316.4" fill="none" stroke="#e2382a" stroke-width="1.25" stroke-linejoin="round" />
<polyline points="512.8,236.4 514.2,236.4 514.2,236.9 515.5,236.9 515.5,237.3 516.9,237.3 516.9,237.8 517.8,237.8 517.8,239.3 518.6,239.3 518.6,240.8 519.5,240.8 519.5,242.2 520.4,242.2 520.4,243.7 521.0,243.7 521.0,245.1 521.6,245.1 521.6,246.4 522.1,246.4 522.1,247.8 522.7,247.8 522.7,249.2 523.3,249.2 523.3,250.5 523.9,250.5 523.9,251.9 524.6,251.9 524.6,253.3 525.3,253.3 525.3,254.7 526.0,254.7 526.0,256.1 526.7,256.1 526.7,257.5 527.4,257.5 527.4,258.9 528.5,258.9 528.5,260.3 529.7,260.3 529.7,261.8 530.9,261.8 530.9,263.2 532.0,263.2 532.0,264.7 532.8,264.7 532.8,266.1 533.6,266.1 533.6,267.4 534.4,267.4 534.4,268.8 535.1,268.8 535.1,270.2 535.9,270.2 535.9,271.5 536.7,271.5 536.7,272.9 538.3,272.9 538.3,274.5 539.8,274.5 539.8,276.0 541.4,276.0 541.4,277.6 543.0,277.6 543.0,279.1 544.5,279.1 544.5,280.7 546.1,280.7 546.1,282.2 547.5,282.2 547.5,283.7 549.0,283.7 549.0,285.1 550.5,285.1 550.5,286.6 551.9,286.6 551.9,288.1 553.4,288.1 553.4,288.7 554.8,288.7 554.8,289.2 556.2,289.2 556.2,289.8 557.7,289.8 557.7,290.4 559.3,290.4 559.3,291.6 560.8,291.6 560.8,292.7 562.4,292.7 562.4,293.9 564.0,293.9 564.0,294.7 565.5,294.7 565.5,295.4 567.1,295.4 567.1,296.2 570.0,296.2 570.0,297.4 578.1,297.4 578.1,298.2" fill="none" stroke="#e2382a" stroke-width="2.4" stroke-linejoin="round" />
<line x1="622.40" y1="306.90" x2="622.40" y2="309.90" stroke="#e2382a" stroke-width="0.9" />
<line x1="551.60" y1="286.30" x2="551.60" y2="289.30" stroke="#e2382a" stroke-width="0.9" />
<line x1="561.80" y1="291.90" x2="561.80" y2="294.90" stroke="#e2382a" stroke-width="0.9" />
<line x1="571.30" y1="296.00" x2="571.30" y2="299.00" stroke="#e2382a" stroke-width="0.9" />
<line x1="571.70" y1="296.10" x2="571.70" y2="299.10" stroke="#e2382a" stroke-width="0.9" />
<line x1="570.30" y1="295.90" x2="570.30" y2="298.90" stroke="#e2382a" stroke-width="0.9" />
<line x1="639.60" y1="313.60" x2="639.60" y2="316.60" stroke="#e2382a" stroke-width="0.9" />
<line x1="536.00" y1="270.10" x2="536.00" y2="273.10" stroke="#e2382a" stroke-width="0.9" />
<line x1="515.40" y1="235.80" x2="515.40" y2="238.80" stroke="#e2382a" stroke-width="0.9" />
<line x1="642.70" y1="314.30" x2="642.70" y2="317.30" stroke="#e2382a" stroke-width="0.9" />
<line x1="634.10" y1="311.10" x2="634.10" y2="314.10" stroke="#e2382a" stroke-width="0.9" />
<line x1="648.60" y1="314.80" x2="648.60" y2="317.80" stroke="#e2382a" stroke-width="0.9" />
<line x1="573.70" y1="296.30" x2="573.70" y2="299.30" stroke="#e2382a" stroke-width="0.9" />
<line x1="643.60" y1="314.40" x2="643.60" y2="317.40" stroke="#e2382a" stroke-width="0.9" />
<line x1="640.60" y1="314.00" x2="640.60" y2="317.00" stroke="#e2382a" stroke-width="0.9" />
<line x1="544.90" y1="279.50" x2="544.90" y2="282.50" stroke="#e2382a" stroke-width="0.9" />
<line x1="615.90" y1="306.40" x2="615.90" y2="309.40" stroke="#e2382a" stroke-width="0.9" />
<line x1="628.30" y1="309.20" x2="628.30" y2="312.20" stroke="#e2382a" stroke-width="0.9" />
<line x1="604.70" y1="302.40" x2="604.70" y2="305.40" stroke="#e2382a" stroke-width="0.9" />
<line x1="585.20" y1="299.50" x2="585.20" y2="302.50" stroke="#e2382a" stroke-width="0.9" />
<line x1="554.00" y1="287.40" x2="554.00" y2="290.40" stroke="#e2382a" stroke-width="0.9" />
<line x1="561.00" y1="291.40" x2="561.00" y2="294.40" stroke="#e2382a" stroke-width="0.9" />
<line x1="545.60" y1="280.30" x2="545.60" y2="283.30" stroke="#e2382a" stroke-width="0.9" />
<line x1="524.00" y1="250.70" x2="524.00" y2="253.70" stroke="#e2382a" stroke-width="0.9" />
<line x1="594.60" y1="301.50" x2="594.60" y2="304.50" stroke="#e2382a" stroke-width="0.9" />
<line x1="553.70" y1="287.30" x2="553.70" y2="290.30" stroke="#e2382a" stroke-width="0.9" />
<line x1="624.70" y1="308.30" x2="624.70" y2="311.30" stroke="#e2382a" stroke-width="0.9" />
<line x1="520.90" y1="243.40" x2="520.90" y2="246.40" stroke="#e2382a" stroke-width="0.9" />
<line x1="637.30" y1="312.40" x2="637.30" y2="315.40" stroke="#e2382a" stroke-width="0.9" />
<line x1="608.90" y1="305.00" x2="608.90" y2="308.00" stroke="#e2382a" stroke-width="0.9" />
<line x1="640.10" y1="313.80" x2="640.10" y2="316.80" stroke="#e2382a" stroke-width="0.9" />
<line x1="636.40" y1="312.00" x2="636.40" y2="315.00" stroke="#e2382a" stroke-width="0.9" />
<line x1="636.80" y1="312.10" x2="636.80" y2="315.10" stroke="#e2382a" stroke-width="0.9" />
<line x1="593.00" y1="300.90" x2="593.00" y2="303.90" stroke="#e2382a" stroke-width="0.9" />
<line x1="516.60" y1="236.20" x2="516.60" y2="239.20" stroke="#e2382a" stroke-width="0.9" />
<line x1="615.90" y1="306.40" x2="615.90" y2="309.40" stroke="#e2382a" stroke-width="0.9" />
<line x1="538.10" y1="272.80" x2="538.10" y2="275.80" stroke="#e2382a" stroke-width="0.9" />
<line x1="555.50" y1="288.00" x2="555.50" y2="291.00" stroke="#e2382a" stroke-width="0.9" />
<line x1="604.70" y1="302.40" x2="604.70" y2="305.40" stroke="#e2382a" stroke-width="0.9" />
<line x1="586.00" y1="299.60" x2="586.00" y2="302.60" stroke="#e2382a" stroke-width="0.9" />
<line x1="570.90" y1="296.00" x2="570.90" y2="299.00" stroke="#e2382a" stroke-width="0.9" />
<line x1="642.10" y1="314.30" x2="642.10" y2="317.30" stroke="#e2382a" stroke-width="0.9" />
<line x1="597.80" y1="301.90" x2="597.80" y2="304.90" stroke="#e2382a" stroke-width="0.9" />
<line x1="561.10" y1="291.40" x2="561.10" y2="294.40" stroke="#e2382a" stroke-width="0.9" />
<line x1="549.00" y1="283.70" x2="549.00" y2="286.70" stroke="#e2382a" stroke-width="0.9" />
<line x1="631.60" y1="310.20" x2="631.60" y2="313.20" stroke="#e2382a" stroke-width="0.9" />
<line x1="579.50" y1="297.50" x2="579.50" y2="300.50" stroke="#e2382a" stroke-width="0.9" />
<line x1="620.90" y1="306.60" x2="620.90" y2="309.60" stroke="#e2382a" stroke-width="0.9" />
<line x1="562.50" y1="292.50" x2="562.50" y2="295.50" stroke="#e2382a" stroke-width="0.9" />
<line x1="541.60" y1="276.30" x2="541.60" y2="279.30" stroke="#e2382a" stroke-width="0.9" />
<line x1="587.30" y1="299.70" x2="587.30" y2="302.70" stroke="#e2382a" stroke-width="0.9" />
<line x1="625.60" y1="308.60" x2="625.60" y2="311.60" stroke="#e2382a" stroke-width="0.9" />
<line x1="538.00" y1="272.70" x2="538.00" y2="275.70" stroke="#e2382a" stroke-width="0.9" />
<line x1="622.20" y1="306.80" x2="622.20" y2="309.80" stroke="#e2382a" stroke-width="0.9" />
<line x1="639.80" y1="313.60" x2="639.80" y2="316.60" stroke="#e2382a" stroke-width="0.9" />
<line x1="624.10" y1="307.90" x2="624.10" y2="310.90" stroke="#e2382a" stroke-width="0.9" />
<line x1="626.50" y1="308.80" x2="626.50" y2="311.80" stroke="#e2382a" stroke-width="0.9" />
<line x1="515.80" y1="235.90" x2="515.80" y2="238.90" stroke="#e2382a" stroke-width="0.9" />
<line x1="600.00" y1="302.10" x2="600.00" y2="305.10" stroke="#e2382a" stroke-width="0.9" />
<line x1="631.80" y1="310.20" x2="631.80" y2="313.20" stroke="#e2382a" stroke-width="0.9" />
<polyline points="512.8,236.4 514.2,236.4 514.2,236.9 515.7,236.9 515.7,237.4 517.1,237.4 517.1,237.9 518.6,237.9 518.6,238.4 519.9,238.4 519.9,239.7 521.2,239.7 521.2,241.1 522.6,241.1 522.6,242.4 523.9,242.4 523.9,243.7 525.1,243.7 525.1,244.9 526.2,244.9 526.2,246.0 527.4,246.0 527.4,247.2 528.3,247.2 528.3,248.6 529.1,248.6 529.1,250.1 530.0,250.1 530.0,251.6 530.9,251.6 530.9,253.0 532.4,253.0 532.4,254.0 533.8,254.0 533.8,255.1 535.2,255.1 535.2,256.1 536.7,256.1 536.7,257.1 537.9,257.1 537.9,258.5 539.0,258.5 539.0,259.8 540.2,259.8 540.2,261.2 541.7,261.2 541.7,262.1 543.2,262.1 543.2,262.9 544.6,262.9 544.6,263.8 546.1,263.8 546.1,264.7 547.6,264.7 547.6,265.9 549.2,265.9 549.2,267.0 550.7,267.0 550.7,268.2 552.3,268.2 552.3,268.5 553.8,268.5 553.8,268.8 555.4,268.8 555.4,269.1 557.0,269.1 557.0,269.4 558.5,269.4 558.5,269.7 560.1,269.7 560.1,270.0 561.3,270.0 561.3,270.4 562.4,270.4 562.4,270.7 563.6,270.7 563.6,271.1 570.8,271.1 570.8,271.2 571.6,271.2 571.6,274.1 575.2,274.1 575.2,274.5 576.0,274.5 576.0,277.0 579.6,277.0 579.6,277.7 581.1,277.7 581.1,283.6 591.3,283.6 591.3,283.6 592.0,283.6 592.0,285.8 597.8,285.8 597.8,287.2 598.6,287.2 598.6,295.3 621.2,295.3 621.2,295.3 621.9,295.3 621.9,300.4 641.2,300.4 641.2,300.4 641.6,300.4 641.6,305.5 650.4,305.5 650.4,305.5" fill="none" stroke="#000" stroke-width="1.35" stroke-linejoin="round" />
<polyline points="512.8,236.4 514.2,236.4 514.2,236.9 515.7,236.9 515.7,237.4 517.1,237.4 517.1,237.9 518.6,237.9 518.6,238.4 519.9,238.4 519.9,239.7 521.2,239.7 521.2,241.1 522.6,241.1 522.6,242.4 523.9,242.4 523.9,243.7 525.1,243.7 525.1,244.9 526.2,244.9 526.2,246.0 527.4,246.0 527.4,247.2 528.3,247.2 528.3,248.6 529.1,248.6 529.1,250.1 530.0,250.1 530.0,251.6 530.9,251.6 530.9,253.0 532.4,253.0 532.4,254.0 533.8,254.0 533.8,255.1 535.2,255.1 535.2,256.1 536.7,256.1 536.7,257.1 537.9,257.1 537.9,258.5 539.0,258.5 539.0,259.8 540.2,259.8 540.2,261.2 541.7,261.2 541.7,262.1 543.2,262.1 543.2,262.9 544.6,262.9 544.6,263.8 546.1,263.8 546.1,264.7 547.6,264.7 547.6,265.9 549.2,265.9 549.2,267.0 550.7,267.0 550.7,268.2 552.3,268.2 552.3,268.5 553.8,268.5 553.8,268.8 555.4,268.8 555.4,269.1 557.0,269.1 557.0,269.4 558.5,269.4 558.5,269.7 560.1,269.7 560.1,270.0 561.3,270.0 561.3,270.4 562.4,270.4 562.4,270.7 563.6,270.7 563.6,271.1" fill="none" stroke="#000" stroke-width="1.5" stroke-linejoin="round" />
<line x1="521.60" y1="239.90" x2="521.60" y2="242.90" stroke="#000" stroke-width="1.0" />
<line x1="551.60" y1="266.90" x2="551.60" y2="269.90" stroke="#000" stroke-width="1.0" />
<line x1="551.20" y1="266.80" x2="551.20" y2="269.80" stroke="#000" stroke-width="1.0" />
<line x1="586.30" y1="282.10" x2="586.30" y2="285.10" stroke="#000" stroke-width="1.0" />
<line x1="572.20" y1="272.70" x2="572.20" y2="275.70" stroke="#000" stroke-width="1.0" />
<line x1="578.90" y1="276.10" x2="578.90" y2="279.10" stroke="#000" stroke-width="1.0" />
<line x1="620.10" y1="293.80" x2="620.10" y2="296.80" stroke="#000" stroke-width="1.0" />
<line x1="515.00" y1="235.70" x2="515.00" y2="238.70" stroke="#000" stroke-width="1.0" />
<line x1="522.20" y1="240.50" x2="522.20" y2="243.50" stroke="#000" stroke-width="1.0" />
<line x1="532.00" y1="252.30" x2="532.00" y2="255.30" stroke="#000" stroke-width="1.0" />
<line x1="531.70" y1="252.10" x2="531.70" y2="255.10" stroke="#000" stroke-width="1.0" />
<line x1="524.10" y1="242.40" x2="524.10" y2="245.40" stroke="#000" stroke-width="1.0" />
<line x1="647.00" y1="304.00" x2="647.00" y2="307.00" stroke="#000" stroke-width="1.0" />
<line x1="630.70" y1="298.90" x2="630.70" y2="301.90" stroke="#000" stroke-width="1.0" />
<line x1="526.50" y1="244.80" x2="526.50" y2="247.80" stroke="#000" stroke-width="1.0" />
<line x1="582.90" y1="282.10" x2="582.90" y2="285.10" stroke="#000" stroke-width="1.0" />
<line x1="557.60" y1="268.00" x2="557.60" y2="271.00" stroke="#000" stroke-width="1.0" />
<line x1="557.50" y1="268.00" x2="557.50" y2="271.00" stroke="#000" stroke-width="1.0" />
<line x1="562.40" y1="269.20" x2="562.40" y2="272.20" stroke="#000" stroke-width="1.0" />
<line x1="602.50" y1="293.80" x2="602.50" y2="296.80" stroke="#000" stroke-width="1.0" />
<line x1="594.30" y1="284.90" x2="594.30" y2="287.90" stroke="#000" stroke-width="1.0" />
<line x1="563.70" y1="269.60" x2="563.70" y2="272.60" stroke="#000" stroke-width="1.0" />
<line x1="540.70" y1="260.00" x2="540.70" y2="263.00" stroke="#000" stroke-width="1.0" />
<line x1="559.40" y1="268.40" x2="559.40" y2="271.40" stroke="#000" stroke-width="1.0" />
<line x1="531.60" y1="252.00" x2="531.60" y2="255.00" stroke="#000" stroke-width="1.0" />
<line x1="590.10" y1="282.10" x2="590.10" y2="285.10" stroke="#000" stroke-width="1.0" />
<text font-family="'Liberation Serif', serif" font-size="15" font-weight="bold" fill="#1e1a1b" text-anchor="start" x="5.80" y="434.00" >E</text>
<line x1="59.10" y1="447.20" x2="59.10" y2="552.10" stroke="#1e1a1b" stroke-width="1.3" />
<line x1="58.50" y1="551.50" x2="213.96" y2="551.50" stroke="#1e1a1b" stroke-width="1.3" />
<line x1="56.30" y1="551.50" x2="59.10" y2="551.50" stroke="#1e1a1b" stroke-width="1.1" />
<text font-family="'Liberation Sans', sans-serif" font-size="7.3" font-weight="bold" fill="#1e1a1b" text-anchor="end" x="55.50" y="554.10" >0</text>
<line x1="56.30" y1="525.55" x2="59.10" y2="525.55" stroke="#1e1a1b" stroke-width="1.1" />
<text font-family="'Liberation Sans', sans-serif" font-size="7.3" font-weight="bold" fill="#1e1a1b" text-anchor="end" x="55.50" y="528.15" >5</text>
<line x1="56.30" y1="499.60" x2="59.10" y2="499.60" stroke="#1e1a1b" stroke-width="1.1" />
<text font-family="'Liberation Sans', sans-serif" font-size="7.3" font-weight="bold" fill="#1e1a1b" text-anchor="end" x="55.50" y="502.20" >10</text>
<line x1="56.30" y1="473.65" x2="59.10" y2="473.65" stroke="#1e1a1b" stroke-width="1.1" />
<text font-family="'Liberation Sans', sans-serif" font-size="7.3" font-weight="bold" fill="#1e1a1b" text-anchor="end" x="55.50" y="476.25" >15</text>
<line x1="56.30" y1="447.70" x2="59.10" y2="447.70" stroke="#1e1a1b" stroke-width="1.1" />
<text font-family="'Liberation Sans', sans-serif" font-size="7.3" font-weight="bold" fill="#1e1a1b" text-anchor="end" x="55.50" y="450.30" >20</text>
<line x1="59.10" y1="551.50" x2="59.10" y2="554.30" stroke="#1e1a1b" stroke-width="1.1" />
<text font-family="'Liberation Sans', sans-serif" font-size="7.3" font-weight="bold" fill="#1e1a1b" text-anchor="middle" x="59.10" y="561.70" >0</text>
<line x1="81.18" y1="551.50" x2="81.18" y2="554.30" stroke="#1e1a1b" stroke-width="1.1" />
<text font-family="'Liberation Sans', sans-serif" font-size="7.3" font-weight="bold" fill="#1e1a1b" text-anchor="middle" x="81.18" y="561.70" >1</text>
<line x1="103.26" y1="551.50" x2="103.26" y2="554.30" stroke="#1e1a1b" stroke-width="1.1" />
<text font-family="'Liberation Sans', sans-serif" font-size="7.3" font-weight="bold" fill="#1e1a1b" text-anchor="middle" x="103.26" y="561.70" >2</text>
<line x1="125.34" y1="551.50" x2="125.34" y2="554.30" stroke="#1e1a1b" stroke-width="1.1" />
<text font-family="'Liberation Sans', sans-serif" font-size="7.3" font-weight="bold" fill="#1e1a1b" text-anchor="middle" x="125.34" y="561.70" >3</text>
<line x1="147.42" y1="551.50" x2="147.42" y2="554.30" stroke="#1e1a1b" stroke-width="1.1" />
<text font-family="'Liberation Sans', sans-serif" font-size="7.3" font-weight="bold" fill="#1e1a1b" text-anchor="middle" x="147.42" y="561.70" >4</text>
<line x1="169.50" y1="551.50" x2="169.50" y2="554.30" stroke="#1e1a1b" stroke-width="1.1" />
<text font-family="'Liberation Sans', sans-serif" font-size="7.3" font-weight="bold" fill="#1e1a1b" text-anchor="middle" x="169.50" y="561.70" >5</text>
<line x1="191.58" y1="551.50" x2="191.58" y2="554.30" stroke="#1e1a1b" stroke-width="1.1" />
<text font-family="'Liberation Sans', sans-serif" font-size="7.3" font-weight="bold" fill="#1e1a1b" text-anchor="middle" x="191.58" y="561.70" >6</text>
<line x1="213.66" y1="551.50" x2="213.66" y2="554.30" stroke="#1e1a1b" stroke-width="1.1" />
<text font-family="'Liberation Sans', sans-serif" font-size="7.3" font-weight="bold" fill="#1e1a1b" text-anchor="middle" x="213.66" y="561.70" >7</text>
<text font-family="'Liberation Sans', sans-serif" font-size="12" font-weight="bold" fill="#1e1a1b" text-anchor="start" textLength="28.5" lengthAdjust="spacingAndGlyphs" x="124.90" y="435.80" >Tong</text>
<text font-family="'Liberation Sans', sans-serif" font-size="11.8" font-weight="bold" fill="#1e1a1b" text-anchor="middle" textLength="114.0" lengthAdjust="spacingAndGlyphs" transform="translate(40.60,499.00) rotate(-90)" x="0" y="0" >Relative cell vaibility</text>
<text font-family="'Liberation Sans', sans-serif" font-size="11.3" font-weight="bold" fill="#1e1a1b" text-anchor="start" textLength="64.3" lengthAdjust="spacingAndGlyphs" x="114.00" y="573.30" >Time (days)</text>
<polyline points="59.1,546.3 81.2,545.3 125.3,532.0 147.4,532.6 169.5,521.8 191.6,517.3 213.7,509.3" fill="none" stroke="#8a28a3" stroke-width="1.5" stroke-linejoin="round" />
<polygon points="56.9,548.3 61.3,548.3 59.1,544.3" fill="#8a28a3"/>
<polygon points="79.0,547.3 83.4,547.3 81.2,543.3" fill="#8a28a3"/>
<polygon points="123.1,534.0 127.5,534.0 125.3,530.0" fill="#8a28a3"/>
<polygon points="145.2,534.6 149.6,534.6 147.4,530.6" fill="#8a28a3"/>
<polygon points="167.3,523.8 171.7,523.8 169.5,519.8" fill="#8a28a3"/>
<polygon points="189.4,519.3 193.8,519.3 191.6,515.3" fill="#8a28a3"/>
<polygon points="211.5,511.3 215.9,511.3 213.7,507.3" fill="#8a28a3"/>
<polyline points="59.1,546.3 81.2,545.2 125.3,531.5 147.4,521.8 169.5,516.2 191.6,507.6 213.7,501.5" fill="none" stroke="#3c5dab" stroke-width="1.5" stroke-linejoin="round" />
<rect x="57.00" y="544.21" width="4.20" height="4.20" fill="#3c5dab" />
<rect x="79.08" y="543.10" width="4.20" height="4.20" fill="#3c5dab" />
<rect x="123.24" y="529.40" width="4.20" height="4.20" fill="#3c5dab" />
<rect x="145.32" y="519.70" width="4.20" height="4.20" fill="#3c5dab" />
<rect x="167.40" y="514.10" width="4.20" height="4.20" fill="#3c5dab" />
<rect x="189.48" y="505.50" width="4.20" height="4.20" fill="#3c5dab" />
<rect x="211.56" y="499.40" width="4.20" height="4.20" fill="#3c5dab" />
<polyline points="59.1,546.3 81.2,542.8 125.3,518.9 147.4,507.7 169.5,494.1 191.6,482.6 213.7,478.2" fill="none" stroke="#000" stroke-width="1.5" stroke-linejoin="round" />
<line x1="147.42" y1="502.25" x2="147.42" y2="513.15" stroke="#000" stroke-width="1.2" />
<line x1="144.92" y1="502.25" x2="149.92" y2="502.25" stroke="#000" stroke-width="1.3" />
<line x1="144.92" y1="513.15" x2="149.92" y2="513.15" stroke="#000" stroke-width="1.3" />
<circle cx="59.10" cy="546.31" r="2.0" fill="#000"/>
<circle cx="81.18" cy="542.80" r="2.0" fill="#000"/>
<circle cx="125.34" cy="518.90" r="2.0" fill="#000"/>
<circle cx="147.42" cy="507.70" r="2.0" fill="#000"/>
<circle cx="169.50" cy="494.10" r="2.0" fill="#000"/>
<circle cx="191.58" cy="482.60" r="2.0" fill="#000"/>
<circle cx="213.66" cy="478.20" r="2.0" fill="#000"/>
<polygon points="222.10,496.60 222.63,497.97 224.10,498.05 222.96,498.98 223.33,500.40 222.10,499.60 220.87,500.40 221.24,498.98 220.10,498.05 221.57,497.97" fill="#3a3a3a"/>
<polygon points="222.90,506.80 223.43,508.17 224.90,508.25 223.76,509.18 224.13,510.60 222.90,509.80 221.67,510.60 222.04,509.18 220.90,508.25 222.37,508.17" fill="#3a3a3a"/>
<line x1="63.90" y1="452.10" x2="75.70" y2="452.10" stroke="#000" stroke-width="1.35" />
<circle cx="69.80" cy="452.10" r="2.0" fill="#000"/>
<text font-family="'Liberation Sans', sans-serif" font-size="11.8" font-weight="bold" fill="#1e1a1b" text-anchor="start" textLength="34.0" lengthAdjust="spacingAndGlyphs" x="82.00" y="455.00" >shCtrl</text>
<line x1="63.90" y1="464.60" x2="75.70" y2="464.60" stroke="#3c5dab" stroke-width="1.35" />
<rect x="67.70" y="462.50" width="4.20" height="4.20" fill="#3c5dab" />
<text font-family="'Liberation Sans', sans-serif" font-size="11.8" font-weight="bold" fill="#1e1a1b" text-anchor="start" textLength="67.0" lengthAdjust="spacingAndGlyphs" x="82.00" y="467.60" >shMED23#a</text>
<line x1="63.90" y1="476.30" x2="75.70" y2="476.30" stroke="#8a28a3" stroke-width="1.35" />
<polygon points="67.6,478.3 72.0,478.3 69.8,474.3" fill="#8a28a3"/>
<text font-family="'Liberation Sans', sans-serif" font-size="11.8" font-weight="bold" fill="#1e1a1b" text-anchor="start" textLength="67.0" lengthAdjust="spacingAndGlyphs" x="82.00" y="479.10" >shMED23#b</text>
<line x1="278.60" y1="445.20" x2="278.60" y2="549.90" stroke="#1e1a1b" stroke-width="1.3" />
<line x1="278.00" y1="549.30" x2="434.30" y2="549.30" stroke="#1e1a1b" stroke-width="1.3" />
<line x1="275.80" y1="549.30" x2="278.60" y2="549.30" stroke="#1e1a1b" stroke-width="1.1" />
<text font-family="'Liberation Sans', sans-serif" font-size="7.3" font-weight="bold" fill="#1e1a1b" text-anchor="end" x="275.00" y="551.90" >0</text>
<line x1="275.80" y1="528.58" x2="278.60" y2="528.58" stroke="#1e1a1b" stroke-width="1.1" />
<text font-family="'Liberation Sans', sans-serif" font-size="7.3" font-weight="bold" fill="#1e1a1b" text-anchor="end" x="275.00" y="531.18" >5</text>
<line x1="275.80" y1="507.86" x2="278.60" y2="507.86" stroke="#1e1a1b" stroke-width="1.1" />
<text font-family="'Liberation Sans', sans-serif" font-size="7.3" font-weight="bold" fill="#1e1a1b" text-anchor="end" x="275.00" y="510.46" >10</text>
<line x1="275.80" y1="487.14" x2="278.60" y2="487.14" stroke="#1e1a1b" stroke-width="1.1" />
<text font-family="'Liberation Sans', sans-serif" font-size="7.3" font-weight="bold" fill="#1e1a1b" text-anchor="end" x="275.00" y="489.74" >15</text>
<line x1="275.80" y1="466.42" x2="278.60" y2="466.42" stroke="#1e1a1b" stroke-width="1.1" />
<text font-family="'Liberation Sans', sans-serif" font-size="7.3" font-weight="bold" fill="#1e1a1b" text-anchor="end" x="275.00" y="469.02" >20</text>
<line x1="275.80" y1="445.70" x2="278.60" y2="445.70" stroke="#1e1a1b" stroke-width="1.1" />
<text font-family="'Liberation Sans', sans-serif" font-size="7.3" font-weight="bold" fill="#1e1a1b" text-anchor="end" x="275.00" y="448.30" >25</text>
<line x1="278.60" y1="549.30" x2="278.60" y2="552.10" stroke="#1e1a1b" stroke-width="1.1" />
<text font-family="'Liberation Sans', sans-serif" font-size="7.3" font-weight="bold" fill="#1e1a1b" text-anchor="middle" x="278.60" y="559.50" >0</text>
<line x1="300.80" y1="549.30" x2="300.80" y2="552.10" stroke="#1e1a1b" stroke-width="1.1" />
<text font-family="'Liberation Sans', sans-serif" font-size="7.3" font-weight="bold" fill="#1e1a1b" text-anchor="middle" x="300.80" y="559.50" >1</text>
<line x1="323.00" y1="549.30" x2="323.00" y2="552.10" stroke="#1e1a1b" stroke-width="1.1" />
<text font-family="'Liberation Sans', sans-serif" font-size="7.3" font-weight="bold" fill="#1e1a1b" text-anchor="middle" x="323.00" y="559.50" >2</text>
<line x1="345.20" y1="549.30" x2="345.20" y2="552.10" stroke="#1e1a1b" stroke-width="1.1" />
<text font-family="'Liberation Sans', sans-serif" font-size="7.3" font-weight="bold" fill="#1e1a1b" text-anchor="middle" x="345.20" y="559.50" >3</text>
<line x1="367.40" y1="549.30" x2="367.40" y2="552.10" stroke="#1e1a1b" stroke-width="1.1" />
<text font-family="'Liberation Sans', sans-serif" font-size="7.3" font-weight="bold" fill="#1e1a1b" text-anchor="middle" x="367.40" y="559.50" >4</text>
<line x1="389.60" y1="549.30" x2="389.60" y2="552.10" stroke="#1e1a1b" stroke-width="1.1" />
<text font-family="'Liberation Sans', sans-serif" font-size="7.3" font-weight="bold" fill="#1e1a1b" text-anchor="middle" x="389.60" y="559.50" >5</text>
<line x1="411.80" y1="549.30" x2="411.80" y2="552.10" stroke="#1e1a1b" stroke-width="1.1" />
<text font-family="'Liberation Sans', sans-serif" font-size="7.3" font-weight="bold" fill="#1e1a1b" text-anchor="middle" x="411.80" y="559.50" >6</text>
<line x1="434.00" y1="549.30" x2="434.00" y2="552.10" stroke="#1e1a1b" stroke-width="1.1" />
<text font-family="'Liberation Sans', sans-serif" font-size="7.3" font-weight="bold" fill="#1e1a1b" text-anchor="middle" x="434.00" y="559.50" >7</text>
<text font-family="'Liberation Sans', sans-serif" font-size="12" font-weight="bold" fill="#1e1a1b" text-anchor="start" textLength="38.8" lengthAdjust="spacingAndGlyphs" x="341.10" y="431.90" >HepG2</text>
<text font-family="'Liberation Sans', sans-serif" font-size="11.8" font-weight="bold" fill="#1e1a1b" text-anchor="middle" textLength="112.7" lengthAdjust="spacingAndGlyphs" transform="translate(263.20,498.30) rotate(-90)" x="0" y="0" >Relative cell vaibility</text>
<text font-family="'Liberation Sans', sans-serif" font-size="11.3" font-weight="bold" fill="#1e1a1b" text-anchor="start" textLength="64.2" lengthAdjust="spacingAndGlyphs" x="334.70" y="572.50" >Time (days)</text>
<polyline points="278.6,545.2 300.8,544.6 345.2,542.4 367.4,541.1 389.6,542.4 411.8,540.6 434.0,537.6" fill="none" stroke="#8a28a3" stroke-width="1.5" stroke-linejoin="round" />
<line x1="434.00" y1="535.12" x2="434.00" y2="540.09" stroke="#8a28a3" stroke-width="1.2" />
<line x1="431.50" y1="535.12" x2="436.50" y2="535.12" stroke="#8a28a3" stroke-width="1.3" />
<line x1="431.50" y1="540.09" x2="436.50" y2="540.09" stroke="#8a28a3" stroke-width="1.3" />
<polygon points="276.4,547.1 280.8,547.1 278.6,543.2" fill="#8a28a3"/>
<polygon points="298.6,546.6 303.0,546.6 300.8,542.6" fill="#8a28a3"/>
<polygon points="343.0,544.4 347.4,544.4 345.2,540.4" fill="#8a28a3"/>
<polygon points="365.2,543.1 369.6,543.1 367.4,539.1" fill="#8a28a3"/>
<polygon points="387.4,544.4 391.8,544.4 389.6,540.4" fill="#8a28a3"/>
<polygon points="409.6,542.6 414.0,542.6 411.8,538.6" fill="#8a28a3"/>
<polygon points="431.8,539.6 436.2,539.6 434.0,535.6" fill="#8a28a3"/>
<polyline points="278.6,545.2 300.8,543.8 345.2,537.0 367.4,531.8 389.6,526.5 411.8,501.1 434.0,489.8" fill="none" stroke="#3c5dab" stroke-width="1.5" stroke-linejoin="round" />
<line x1="367.40" y1="528.90" x2="367.40" y2="534.70" stroke="#3c5dab" stroke-width="1.2" />
<line x1="364.90" y1="528.90" x2="369.90" y2="528.90" stroke="#3c5dab" stroke-width="1.3" />
<line x1="364.90" y1="534.70" x2="369.90" y2="534.70" stroke="#3c5dab" stroke-width="1.3" />
<line x1="411.80" y1="498.61" x2="411.80" y2="503.59" stroke="#3c5dab" stroke-width="1.2" />
<line x1="409.30" y1="498.61" x2="414.30" y2="498.61" stroke="#3c5dab" stroke-width="1.3" />
<line x1="409.30" y1="503.59" x2="414.30" y2="503.59" stroke="#3c5dab" stroke-width="1.3" />
<line x1="434.00" y1="485.24" x2="434.00" y2="494.36" stroke="#3c5dab" stroke-width="1.2" />
<line x1="431.50" y1="485.24" x2="436.50" y2="485.24" stroke="#3c5dab" stroke-width="1.3" />
<line x1="431.50" y1="494.36" x2="436.50" y2="494.36" stroke="#3c5dab" stroke-width="1.3" />
<rect x="276.50" y="543.06" width="4.20" height="4.20" fill="#3c5dab" />
<rect x="298.70" y="541.70" width="4.20" height="4.20" fill="#3c5dab" />
<rect x="343.10" y="534.90" width="4.20" height="4.20" fill="#3c5dab" />
<rect x="365.30" y="529.70" width="4.20" height="4.20" fill="#3c5dab" />
<rect x="387.50" y="524.40" width="4.20" height="4.20" fill="#3c5dab" />
<rect x="409.70" y="499.00" width="4.20" height="4.20" fill="#3c5dab" />
<rect x="431.90" y="487.70" width="4.20" height="4.20" fill="#3c5dab" />
<polyline points="278.6,545.2 300.8,543.5 345.2,530.6 367.4,520.1 389.6,499.7 411.8,473.4 434.0,459.7" fill="none" stroke="#000" stroke-width="1.5" stroke-linejoin="round" />
<line x1="367.40" y1="516.79" x2="367.40" y2="523.42" stroke="#000" stroke-width="1.2" />
<line x1="364.90" y1="516.79" x2="369.90" y2="516.79" stroke="#000" stroke-width="1.3" />
<line x1="364.90" y1="523.42" x2="369.90" y2="523.42" stroke="#000" stroke-width="1.3" />
<line x1="411.80" y1="470.91" x2="411.80" y2="475.88" stroke="#000" stroke-width="1.2" />
<line x1="409.30" y1="470.91" x2="414.30" y2="470.91" stroke="#000" stroke-width="1.3" />
<line x1="409.30" y1="475.88" x2="414.30" y2="475.88" stroke="#000" stroke-width="1.3" />
<line x1="434.00" y1="454.73" x2="434.00" y2="464.67" stroke="#000" stroke-width="1.2" />
<line x1="431.50" y1="454.73" x2="436.50" y2="454.73" stroke="#000" stroke-width="1.3" />
<line x1="431.50" y1="464.67" x2="436.50" y2="464.67" stroke="#000" stroke-width="1.3" />
<circle cx="278.60" cy="545.16" r="2.0" fill="#000"/>
<circle cx="300.80" cy="543.50" r="2.0" fill="#000"/>
<circle cx="345.20" cy="530.60" r="2.0" fill="#000"/>
<circle cx="367.40" cy="520.10" r="2.0" fill="#000"/>
<circle cx="389.60" cy="499.70" r="2.0" fill="#000"/>
<circle cx="411.80" cy="473.40" r="2.0" fill="#000"/>
<circle cx="434.00" cy="459.70" r="2.0" fill="#000"/>
<polygon points="442.70,487.40 443.23,488.77 444.70,488.85 443.56,489.78 443.93,491.20 442.70,490.40 441.47,491.20 441.84,489.78 440.70,488.85 442.17,488.77" fill="#3a3a3a"/>
<polygon points="442.70,535.50 443.23,536.87 444.70,536.95 443.56,537.88 443.93,539.30 442.70,538.50 441.47,539.30 441.84,537.88 440.70,536.95 442.17,536.87" fill="#3a3a3a"/>
<line x1="491.90" y1="445.20" x2="491.90" y2="549.90" stroke="#1e1a1b" stroke-width="1.3" />
<line x1="491.30" y1="549.30" x2="647.53" y2="549.30" stroke="#1e1a1b" stroke-width="1.3" />
<line x1="489.10" y1="549.30" x2="491.90" y2="549.30" stroke="#1e1a1b" stroke-width="1.1" />
<text font-family="'Liberation Sans', sans-serif" font-size="7.3" font-weight="bold" fill="#1e1a1b" text-anchor="end" x="488.30" y="551.90" >0</text>
<line x1="489.10" y1="523.40" x2="491.90" y2="523.40" stroke="#1e1a1b" stroke-width="1.1" />
<text font-family="'Liberation Sans', sans-serif" font-size="7.3" font-weight="bold" fill="#1e1a1b" text-anchor="end" x="488.30" y="526.00" >5</text>
<line x1="489.10" y1="497.50" x2="491.90" y2="497.50" stroke="#1e1a1b" stroke-width="1.1" />
<text font-family="'Liberation Sans', sans-serif" font-size="7.3" font-weight="bold" fill="#1e1a1b" text-anchor="end" x="488.30" y="500.10" >10</text>
<line x1="489.10" y1="471.60" x2="491.90" y2="471.60" stroke="#1e1a1b" stroke-width="1.1" />
<text font-family="'Liberation Sans', sans-serif" font-size="7.3" font-weight="bold" fill="#1e1a1b" text-anchor="end" x="488.30" y="474.20" >15</text>
<line x1="489.10" y1="445.70" x2="491.90" y2="445.70" stroke="#1e1a1b" stroke-width="1.1" />
<text font-family="'Liberation Sans', sans-serif" font-size="7.3" font-weight="bold" fill="#1e1a1b" text-anchor="end" x="488.30" y="448.30" >20</text>
<line x1="491.90" y1="549.30" x2="491.90" y2="552.10" stroke="#1e1a1b" stroke-width="1.1" />
<text font-family="'Liberation Sans', sans-serif" font-size="7.3" font-weight="bold" fill="#1e1a1b" text-anchor="middle" x="491.90" y="559.50" >0</text>
<line x1="514.09" y1="549.30" x2="514.09" y2="552.10" stroke="#1e1a1b" stroke-width="1.1" />
<text font-family="'Liberation Sans', sans-serif" font-size="7.3" font-weight="bold" fill="#1e1a1b" text-anchor="middle" x="514.09" y="559.50" >1</text>
<line x1="536.28" y1="549.30" x2="536.28" y2="552.10" stroke="#1e1a1b" stroke-width="1.1" />
<text font-family="'Liberation Sans', sans-serif" font-size="7.3" font-weight="bold" fill="#1e1a1b" text-anchor="middle" x="536.28" y="559.50" >2</text>
<line x1="558.47" y1="549.30" x2="558.47" y2="552.10" stroke="#1e1a1b" stroke-width="1.1" />
<text font-family="'Liberation Sans', sans-serif" font-size="7.3" font-weight="bold" fill="#1e1a1b" text-anchor="middle" x="558.47" y="559.50" >3</text>
<line x1="580.66" y1="549.30" x2="580.66" y2="552.10" stroke="#1e1a1b" stroke-width="1.1" />
<text font-family="'Liberation Sans', sans-serif" font-size="7.3" font-weight="bold" fill="#1e1a1b" text-anchor="middle" x="580.66" y="559.50" >4</text>
<line x1="602.85" y1="549.30" x2="602.85" y2="552.10" stroke="#1e1a1b" stroke-width="1.1" />
<text font-family="'Liberation Sans', sans-serif" font-size="7.3" font-weight="bold" fill="#1e1a1b" text-anchor="middle" x="602.85" y="559.50" >5</text>
<line x1="625.04" y1="549.30" x2="625.04" y2="552.10" stroke="#1e1a1b" stroke-width="1.1" />
<text font-family="'Liberation Sans', sans-serif" font-size="7.3" font-weight="bold" fill="#1e1a1b" text-anchor="middle" x="625.04" y="559.50" >6</text>
<line x1="647.23" y1="549.30" x2="647.23" y2="552.10" stroke="#1e1a1b" stroke-width="1.1" />
<text font-family="'Liberation Sans', sans-serif" font-size="7.3" font-weight="bold" fill="#1e1a1b" text-anchor="middle" x="647.23" y="559.50" >7</text>
<text font-family="'Liberation Sans', sans-serif" font-size="12" font-weight="bold" fill="#1e1a1b" text-anchor="start" textLength="30.1" lengthAdjust="spacingAndGlyphs" x="557.60" y="432.50" >Huh7</text>
<text font-family="'Liberation Sans', sans-serif" font-size="11.8" font-weight="bold" fill="#1e1a1b" text-anchor="middle" textLength="112.5" lengthAdjust="spacingAndGlyphs" transform="translate(476.20,498.30) rotate(-90)" x="0" y="0" >Relative cell vaibility</text>
<text font-family="'Liberation Sans', sans-serif" font-size="11.3" font-weight="bold" fill="#1e1a1b" text-anchor="start" textLength="66.0" lengthAdjust="spacingAndGlyphs" x="546.50" y="572.50" >Time (days)</text>
<polyline points="491.9,544.1 514.1,541.8 536.3,532.7 558.5,528.9 602.9,515.1 625.0,512.8 647.2,488.0" fill="none" stroke="#8a28a3" stroke-width="1.5" stroke-linejoin="round" />
<line x1="647.23" y1="485.93" x2="647.23" y2="490.07" stroke="#8a28a3" stroke-width="1.2" />
<line x1="644.73" y1="485.93" x2="649.73" y2="485.93" stroke="#8a28a3" stroke-width="1.3" />
<line x1="644.73" y1="490.07" x2="649.73" y2="490.07" stroke="#8a28a3" stroke-width="1.3" />
<polygon points="489.7,546.1 494.1,546.1 491.9,542.1" fill="#8a28a3"/>
<polygon points="511.9,543.8 516.3,543.8 514.1,539.8" fill="#8a28a3"/>
<polygon points="534.1,534.7 538.5,534.7 536.3,530.7" fill="#8a28a3"/>
<polygon points="556.3,530.9 560.7,530.9 558.5,526.9" fill="#8a28a3"/>
<polygon points="600.6,517.1 605.1,517.1 602.9,513.1" fill="#8a28a3"/>
<polygon points="622.8,514.8 627.2,514.8 625.0,510.8" fill="#8a28a3"/>
<polygon points="645.0,490.0 649.4,490.0 647.2,486.0" fill="#8a28a3"/>
<polyline points="491.9,544.1 514.1,541.4 536.3,534.7 558.5,528.9 602.9,514.3 625.0,506.1 647.2,482.7" fill="none" stroke="#3c5dab" stroke-width="1.5" stroke-linejoin="round" />
<line x1="602.85" y1="509.12" x2="602.85" y2="519.48" stroke="#3c5dab" stroke-width="1.2" />
<line x1="600.35" y1="509.12" x2="605.35" y2="509.12" stroke="#3c5dab" stroke-width="1.3" />
<line x1="600.35" y1="519.48" x2="605.35" y2="519.48" stroke="#3c5dab" stroke-width="1.3" />
<line x1="625.04" y1="503.51" x2="625.04" y2="508.69" stroke="#3c5dab" stroke-width="1.2" />
<line x1="622.54" y1="503.51" x2="627.54" y2="503.51" stroke="#3c5dab" stroke-width="1.3" />
<line x1="622.54" y1="508.69" x2="627.54" y2="508.69" stroke="#3c5dab" stroke-width="1.3" />
<line x1="647.23" y1="478.56" x2="647.23" y2="486.84" stroke="#3c5dab" stroke-width="1.2" />
<line x1="644.73" y1="478.56" x2="649.73" y2="478.56" stroke="#3c5dab" stroke-width="1.3" />
<line x1="644.73" y1="486.84" x2="649.73" y2="486.84" stroke="#3c5dab" stroke-width="1.3" />
<rect x="489.80" y="542.02" width="4.20" height="4.20" fill="#3c5dab" />
<rect x="511.99" y="539.30" width="4.20" height="4.20" fill="#3c5dab" />
<rect x="534.18" y="532.60" width="4.20" height="4.20" fill="#3c5dab" />
<rect x="556.37" y="526.80" width="4.20" height="4.20" fill="#3c5dab" />
<rect x="600.75" y="512.20" width="4.20" height="4.20" fill="#3c5dab" />
<rect x="622.94" y="504.00" width="4.20" height="4.20" fill="#3c5dab" />
<rect x="645.13" y="480.60" width="4.20" height="4.20" fill="#3c5dab" />
<polyline points="491.9,544.1 514.1,540.0 536.3,528.0 558.5,515.1 602.9,497.6 625.0,485.1 647.2,453.8" fill="none" stroke="#000" stroke-width="1.5" stroke-linejoin="round" />
<line x1="602.85" y1="492.42" x2="602.85" y2="502.78" stroke="#000" stroke-width="1.2" />
<line x1="600.35" y1="492.42" x2="605.35" y2="492.42" stroke="#000" stroke-width="1.3" />
<line x1="600.35" y1="502.78" x2="605.35" y2="502.78" stroke="#000" stroke-width="1.3" />
<line x1="647.23" y1="451.73" x2="647.23" y2="455.87" stroke="#000" stroke-width="1.2" />
<line x1="644.73" y1="451.73" x2="649.73" y2="451.73" stroke="#000" stroke-width="1.3" />
<line x1="644.73" y1="455.87" x2="649.73" y2="455.87" stroke="#000" stroke-width="1.3" />
<circle cx="491.90" cy="544.12" r="2.0" fill="#000"/>
<circle cx="514.09" cy="540.00" r="2.0" fill="#000"/>
<circle cx="536.28" cy="528.00" r="2.0" fill="#000"/>
<circle cx="558.47" cy="515.10" r="2.0" fill="#000"/>
<circle cx="602.85" cy="497.60" r="2.0" fill="#000"/>
<circle cx="625.04" cy="485.10" r="2.0" fill="#000"/>
<circle cx="647.23" cy="453.80" r="2.0" fill="#000"/>
<polygon points="655.40,479.50 655.93,480.87 657.40,480.95 656.26,481.88 656.63,483.30 655.40,482.50 654.17,483.30 654.54,481.88 653.40,480.95 654.87,480.87" fill="#3a3a3a"/>
<polygon points="655.40,486.50 655.93,487.87 657.40,487.95 656.26,488.88 656.63,490.30 655.40,489.50 654.17,490.30 654.54,488.88 653.40,487.95 654.87,487.87" fill="#3a3a3a"/>
<text font-family="'Liberation Sans', sans-serif" font-size="11.3" font-weight="bold" fill="#1e1a1b" text-anchor="start" textLength="34.199999999999996" lengthAdjust="spacingAndGlyphs" x="49.90" y="606.00" >shCtrl</text>
<text font-family="'Liberation Sans', sans-serif" font-size="11.3" font-weight="bold" fill="#1e1a1b" text-anchor="start" textLength="50.99999999999999" lengthAdjust="spacingAndGlyphs" x="33.10" y="623.90" >shM23#a</text>
<text font-family="'Liberation Sans', sans-serif" font-size="11.3" font-weight="bold" fill="#1e1a1b" text-anchor="start" textLength="51.8" lengthAdjust="spacingAndGlyphs" x="32.30" y="642.80" >shM23#b</text>
<line x1="97.70" y1="603.40" x2="106.30" y2="603.40" stroke="#111" stroke-width="1.9" />
<line x1="102.00" y1="599.10" x2="102.00" y2="607.70" stroke="#111" stroke-width="1.9" />
<line x1="128.25" y1="603.40" x2="137.75" y2="603.40" stroke="#111" stroke-width="2.8" />
<line x1="160.25" y1="603.40" x2="169.75" y2="603.40" stroke="#111" stroke-width="2.8" />
<line x1="97.25" y1="622.10" x2="106.75" y2="622.10" stroke="#111" stroke-width="2.8" />
<line x1="128.70" y1="622.10" x2="137.30" y2="622.10" stroke="#111" stroke-width="1.9" />
<line x1="133.00" y1="617.80" x2="133.00" y2="626.40" stroke="#111" stroke-width="1.9" />
<line x1="160.25" y1="622.10" x2="169.75" y2="622.10" stroke="#111" stroke-width="2.8" />
<line x1="97.25" y1="641.00" x2="106.75" y2="641.00" stroke="#111" stroke-width="2.8" />
<line x1="128.25" y1="641.00" x2="137.75" y2="641.00" stroke="#111" stroke-width="2.8" />
<line x1="160.70" y1="641.00" x2="169.30" y2="641.00" stroke="#111" stroke-width="1.9" />
<line x1="165.00" y1="636.70" x2="165.00" y2="645.30" stroke="#111" stroke-width="1.9" />
<rect x="84.10" y="649.70" width="99.90" height="29.90" fill="#d8d8d8" />
<rect x="84.94999999999999" y="650.5500000000001" width="98.2" height="28.199999999999978" fill="none" stroke="#111" stroke-width="1.7"/>
<rect x="84.10" y="683.60" width="99.90" height="35.40" fill="#f8f8f8" />
<rect x="84.94999999999999" y="684.45" width="98.2" height="33.699999999999974" fill="none" stroke="#111" stroke-width="1.7"/>
<rect x="90.0" y="662.4" width="27.2" height="5.6" rx="2.2" fill="rgb(0,0,0)" filter="url(#bl2)"/>
<rect x="122.5" y="664.0" width="24.1" height="2.8" rx="1.1" fill="rgb(127,127,127)" filter="url(#bl2)"/>
<rect x="153.0" y="664.3" width="24.9" height="2.6" rx="1.0" fill="rgb(158,158,158)" filter="url(#bl2)"/>
<rect x="90.4" y="699.7" width="24.9" height="4.6" rx="1.8" fill="rgb(45,45,45)" filter="url(#bl2)"/>
<rect x="121.4" y="699.7" width="24.1" height="4.6" rx="1.8" fill="rgb(38,38,38)" filter="url(#bl2)"/>
<rect x="150.6" y="699.8" width="24.1" height="4.4" rx="1.8" fill="rgb(50,50,50)" filter="url(#bl2)"/>
<rect x="181.0" y="700.5" width="2.5" height="3.0" rx="1.2" fill="rgb(178,178,178)" filter="url(#bl2)"/>
<text font-family="'Liberation Sans', sans-serif" font-size="11.6" font-weight="bold" fill="#1e1a1b" text-anchor="start" textLength="40.0" lengthAdjust="spacingAndGlyphs" x="41.50" y="670.40" >MED23</text>
<text font-family="'Liberation Sans', sans-serif" font-size="11.6" font-weight="bold" fill="#1e1a1b" text-anchor="start" textLength="64.1" lengthAdjust="spacingAndGlyphs" x="17.40" y="705.90" >γ-TUBULIN</text>
<text font-family="'Liberation Sans', sans-serif" font-size="11.2" font-weight="bold" fill="#1e1a1b" text-anchor="start" textLength="27.5" lengthAdjust="spacingAndGlyphs" x="114.20" y="738.40" >Tong</text>
<text font-family="'Liberation Sans', sans-serif" font-size="11.3" font-weight="bold" fill="#1e1a1b" text-anchor="start" textLength="35.0" lengthAdjust="spacingAndGlyphs" x="292.80" y="606.80" >shCtrl</text>
<text font-family="'Liberation Sans', sans-serif" font-size="11.3" font-weight="bold" fill="#1e1a1b" text-anchor="start" textLength="50.69999999999999" lengthAdjust="spacingAndGlyphs" x="277.10" y="624.40" >shM23#a</text>
<text font-family="'Liberation Sans', sans-serif" font-size="11.3" font-weight="bold" fill="#1e1a1b" text-anchor="start" textLength="51.5" lengthAdjust="spacingAndGlyphs" x="276.30" y="643.60" >shM23#b</text>
<line x1="340.30" y1="604.20" x2="348.90" y2="604.20" stroke="#111" stroke-width="1.9" />
<line x1="344.60" y1="599.90" x2="344.60" y2="608.50" stroke="#111" stroke-width="1.9" />
<line x1="371.35" y1="604.20" x2="380.85" y2="604.20" stroke="#111" stroke-width="2.8" />
<line x1="403.15" y1="604.20" x2="412.65" y2="604.20" stroke="#111" stroke-width="2.8" />
<line x1="339.85" y1="622.60" x2="349.35" y2="622.60" stroke="#111" stroke-width="2.8" />
<line x1="371.80" y1="622.60" x2="380.40" y2="622.60" stroke="#111" stroke-width="1.9" />
<line x1="376.10" y1="618.30" x2="376.10" y2="626.90" stroke="#111" stroke-width="1.9" />
<line x1="403.15" y1="622.60" x2="412.65" y2="622.60" stroke="#111" stroke-width="2.8" />
<line x1="339.85" y1="641.80" x2="349.35" y2="641.80" stroke="#111" stroke-width="2.8" />
<line x1="371.35" y1="641.80" x2="380.85" y2="641.80" stroke="#111" stroke-width="2.8" />
<line x1="403.60" y1="641.80" x2="412.20" y2="641.80" stroke="#111" stroke-width="1.9" />
<line x1="407.90" y1="637.50" x2="407.90" y2="646.10" stroke="#111" stroke-width="1.9" />
<rect x="329.10" y="650.70" width="93.80" height="37.60" fill="#dddddd" />
<rect x="329.95000000000005" y="651.5500000000001" width="92.09999999999995" height="35.899999999999906" fill="none" stroke="#111" stroke-width="1.7"/>
<rect x="329.10" y="692.20" width="93.80" height="42.10" fill="#f7f7f7" />
<rect x="329.95000000000005" y="693.0500000000001" width="92.09999999999995" height="40.399999999999906" fill="none" stroke="#111" stroke-width="1.7"/>
<rect x="335.7" y="667.3" width="24.2" height="4.2" rx="1.7" fill="rgb(12,12,12)" filter="url(#bl2)"/>
<rect x="364.0" y="668.4" width="25.0" height="2.4" rx="1.0" fill="rgb(224,224,224)" filter="url(#bl2)"/>
<rect x="391.0" y="668.4" width="26.0" height="2.4" rx="1.0" fill="rgb(224,224,224)" filter="url(#bl2)"/>
<rect x="335.0" y="713.9" width="27.0" height="5.0" rx="2.0" fill="rgb(45,45,45)" filter="url(#bl2)"/>
<rect x="366.0" y="713.9" width="27.0" height="5.0" rx="2.0" fill="rgb(35,35,35)" filter="url(#bl2)"/>
<rect x="394.0" y="713.9" width="26.0" height="5.0" rx="2.0" fill="rgb(40,40,40)" filter="url(#bl2)"/>
<text font-family="'Liberation Sans', sans-serif" font-size="11.6" font-weight="bold" fill="#1e1a1b" text-anchor="start" textLength="41.5" lengthAdjust="spacingAndGlyphs" x="285.00" y="671.20" >MED23</text>
<text font-family="'Liberation Sans', sans-serif" font-size="11.6" font-weight="bold" fill="#1e1a1b" text-anchor="start" textLength="65.19999999999999" lengthAdjust="spacingAndGlyphs" x="261.30" y="707.50" >γ-TUBULIN</text>
<text font-family="'Liberation Sans', sans-serif" font-size="11.2" font-weight="bold" fill="#1e1a1b" text-anchor="start" textLength="38.6" lengthAdjust="spacingAndGlyphs" x="361.00" y="752.90" >HepG2</text>
<text font-family="'Liberation Sans', sans-serif" font-size="11.3" font-weight="bold" fill="#1e1a1b" text-anchor="start" textLength="35.0" lengthAdjust="spacingAndGlyphs" x="516.00" y="609.50" >shCtrl</text>
<text font-family="'Liberation Sans', sans-serif" font-size="11.3" font-weight="bold" fill="#1e1a1b" text-anchor="start" textLength="51.30000000000001" lengthAdjust="spacingAndGlyphs" x="499.70" y="627.10" >shM23#a</text>
<text font-family="'Liberation Sans', sans-serif" font-size="11.3" font-weight="bold" fill="#1e1a1b" text-anchor="start" textLength="52.10000000000002" lengthAdjust="spacingAndGlyphs" x="498.90" y="645.50" >shM23#b</text>
<line x1="563.20" y1="606.80" x2="571.80" y2="606.80" stroke="#111" stroke-width="1.9" />
<line x1="567.50" y1="602.50" x2="567.50" y2="611.10" stroke="#111" stroke-width="1.9" />
<line x1="594.85" y1="606.80" x2="604.35" y2="606.80" stroke="#111" stroke-width="2.8" />
<line x1="625.85" y1="606.80" x2="635.35" y2="606.80" stroke="#111" stroke-width="2.8" />
<line x1="562.75" y1="626.00" x2="572.25" y2="626.00" stroke="#111" stroke-width="2.8" />
<line x1="595.30" y1="626.00" x2="603.90" y2="626.00" stroke="#111" stroke-width="1.9" />
<line x1="599.60" y1="621.70" x2="599.60" y2="630.30" stroke="#111" stroke-width="1.9" />
<line x1="625.85" y1="626.00" x2="635.35" y2="626.00" stroke="#111" stroke-width="2.8" />
<line x1="562.75" y1="644.40" x2="572.25" y2="644.40" stroke="#111" stroke-width="2.8" />
<line x1="594.85" y1="644.40" x2="604.35" y2="644.40" stroke="#111" stroke-width="2.8" />
<line x1="626.30" y1="644.40" x2="634.90" y2="644.40" stroke="#111" stroke-width="1.9" />
<line x1="630.60" y1="640.10" x2="630.60" y2="648.70" stroke="#111" stroke-width="1.9" />
<rect x="549.60" y="652.00" width="106.40" height="31.60" fill="#dcdcdc" />
<rect x="550.45" y="652.85" width="104.69999999999997" height="29.900000000000023" fill="none" stroke="#111" stroke-width="1.7"/>
<rect x="549.60" y="688.30" width="106.40" height="36.00" fill="#f7f7f7" />
<rect x="550.45" y="689.15" width="104.69999999999997" height="34.3" fill="none" stroke="#111" stroke-width="1.7"/>
<rect x="555.9" y="667.4" width="28.5" height="3.8" rx="1.5" fill="rgb(127,127,127)" filter="url(#bl2)"/>
<rect x="589.0" y="668.6" width="25.0" height="2.0" rx="0.8" fill="rgb(247,247,247)" filter="url(#bl2)"/>
<rect x="621.0" y="668.6" width="25.0" height="2.0" rx="0.8" fill="rgb(247,247,247)" filter="url(#bl2)"/>
<rect x="556.7" y="702.3" width="26.1" height="4.8" rx="1.9" fill="rgb(30,30,30)" filter="url(#bl2)"/>
<rect x="589.0" y="702.4" width="25.1" height="4.6" rx="1.8" fill="rgb(35,35,35)" filter="url(#bl2)"/>
<rect x="621.8" y="700.7" width="26.4" height="4.6" rx="1.8" fill="rgb(30,30,30)" filter="url(#bl2)"/>
<text font-family="'Liberation Sans', sans-serif" font-size="11.6" font-weight="bold" fill="#1e1a1b" text-anchor="start" textLength="39.39999999999998" lengthAdjust="spacingAndGlyphs" x="507.60" y="673.80" >MED23</text>
<text font-family="'Liberation Sans', sans-serif" font-size="11.6" font-weight="bold" fill="#1e1a1b" text-anchor="start" textLength="63.0" lengthAdjust="spacingAndGlyphs" x="484.00" y="710.60" >γ-TUBULIN</text>
<text font-family="'Liberation Sans', sans-serif" font-size="11.2" font-weight="bold" fill="#1e1a1b" text-anchor="start" textLength="30.2" lengthAdjust="spacingAndGlyphs" x="593.00" y="739.50" >Huh7</text>
<text font-family="'Liberation Serif', serif" font-size="15" font-weight="bold" fill="#1e1a1b" text-anchor="start" x="6.30" y="776.70" >F</text>
<line x1="89.70" y1="791.40" x2="89.70" y2="926.50" stroke="#1e1a1b" stroke-width="1.3" />
<line x1="89.10" y1="925.90" x2="212.60" y2="925.90" stroke="#1e1a1b" stroke-width="1.3" />
<line x1="86.70" y1="925.90" x2="89.70" y2="925.90" stroke="#1e1a1b" stroke-width="1.1" />
<text font-family="'Liberation Sans', sans-serif" font-size="8.2" font-weight="bold" fill="#1e1a1b" text-anchor="end" textLength="14.0" lengthAdjust="spacingAndGlyphs" x="85.90" y="928.90" >0.0</text>
<line x1="86.70" y1="892.40" x2="89.70" y2="892.40" stroke="#1e1a1b" stroke-width="1.1" />
<text font-family="'Liberation Sans', sans-serif" font-size="8.2" font-weight="bold" fill="#1e1a1b" text-anchor="end" textLength="14.0" lengthAdjust="spacingAndGlyphs" x="85.90" y="895.40" >0.2</text>
<line x1="86.70" y1="858.90" x2="89.70" y2="858.90" stroke="#1e1a1b" stroke-width="1.1" />
<text font-family="'Liberation Sans', sans-serif" font-size="8.2" font-weight="bold" fill="#1e1a1b" text-anchor="end" textLength="14.0" lengthAdjust="spacingAndGlyphs" x="85.90" y="861.90" >0.4</text>
<line x1="86.70" y1="825.40" x2="89.70" y2="825.40" stroke="#1e1a1b" stroke-width="1.1" />
<text font-family="'Liberation Sans', sans-serif" font-size="8.2" font-weight="bold" fill="#1e1a1b" text-anchor="end" textLength="14.0" lengthAdjust="spacingAndGlyphs" x="85.90" y="828.40" >0.6</text>
<line x1="86.70" y1="791.90" x2="89.70" y2="791.90" stroke="#1e1a1b" stroke-width="1.1" />
<text font-family="'Liberation Sans', sans-serif" font-size="8.2" font-weight="bold" fill="#1e1a1b" text-anchor="end" textLength="14.0" lengthAdjust="spacingAndGlyphs" x="85.90" y="794.90" >0.8</text>
<text font-family="'Liberation Sans', sans-serif" font-size="11.5" font-weight="bold" fill="#1e1a1b" text-anchor="start" textLength="29.8" lengthAdjust="spacingAndGlyphs" x="135.60" y="788.70" >Tong</text>
<text font-family="'Liberation Sans', sans-serif" font-size="11.2" font-weight="bold" fill="#1e1a1b" text-anchor="middle" textLength="117.9" lengthAdjust="spacingAndGlyphs" transform="translate(65.40,862.50) rotate(-90)" x="0" y="0" >EdU positive cell rate</text>
<rect x="97.20" y="820.40" width="27.80" height="105.50" fill="#000" />
<line x1="111.10" y1="816.20" x2="111.10" y2="820.90" stroke="#000" stroke-width="1.3" />
<line x1="104.10" y1="816.20" x2="118.20" y2="816.20" stroke="#000" stroke-width="1.3" />
<rect x="137.40" y="839.00" width="28.50" height="86.90" fill="#3b5aa8" />
<line x1="151.65" y1="836.60" x2="151.65" y2="839.50" stroke="#3b5aa8" stroke-width="1.3" />
<line x1="144.30" y1="836.60" x2="158.70" y2="836.60" stroke="#3b5aa8" stroke-width="1.3" />
<rect x="178.30" y="840.00" width="28.60" height="85.90" fill="#87309a" />
<line x1="192.60" y1="830.80" x2="192.60" y2="840.50" stroke="#87309a" stroke-width="1.3" />
<line x1="185.30" y1="830.80" x2="199.70" y2="830.80" stroke="#87309a" stroke-width="1.3" />
<line x1="111.60" y1="925.90" x2="111.60" y2="929.10" stroke="#1e1a1b" stroke-width="1.1" />
<line x1="151.80" y1="925.90" x2="151.80" y2="929.10" stroke="#1e1a1b" stroke-width="1.1" />
<line x1="192.70" y1="925.90" x2="192.70" y2="929.10" stroke="#1e1a1b" stroke-width="1.1" />
<polygon points="150.00,827.40 150.62,829.05 152.38,829.13 151.00,830.22 151.47,831.92 150.00,830.95 148.53,831.92 149.00,830.22 147.62,829.13 149.38,829.05" fill="#2b2b2b"/>
<polygon points="154.50,827.40 155.12,829.05 156.88,829.13 155.50,830.22 155.97,831.92 154.50,830.95 153.03,831.92 153.50,830.22 152.12,829.13 153.88,829.05" fill="#2b2b2b"/>
<text font-family="'Liberation Sans', sans-serif" font-size="11.2" font-weight="bold" fill="#1e1a1b" text-anchor="end" textLength="36.5" lengthAdjust="spacingAndGlyphs" transform="translate(117.50,938.50) rotate(-45)" x="0" y="0" >shCtrl</text>
<text font-family="'Liberation Sans', sans-serif" font-size="11.2" font-weight="bold" fill="#1e1a1b" text-anchor="end" textLength="51.5" lengthAdjust="spacingAndGlyphs" transform="translate(159.60,939.50) rotate(-45)" x="0" y="0" >shM23#a</text>
<text font-family="'Liberation Sans', sans-serif" font-size="11.2" font-weight="bold" fill="#1e1a1b" text-anchor="end" textLength="54.5" lengthAdjust="spacingAndGlyphs" transform="translate(201.00,938.50) rotate(-45)" x="0" y="0" >shM23#b</text>
<text font-family="'Liberation Serif', serif" font-size="15" font-weight="bold" fill="#1e1a1b" text-anchor="start" x="266.70" y="785.20" >G</text>
<line x1="339.20" y1="792.30" x2="339.20" y2="934.40" stroke="#1e1a1b" stroke-width="1.3" />
<line x1="338.60" y1="933.80" x2="550.60" y2="933.80" stroke="#1e1a1b" stroke-width="1.3" />
<line x1="336.00" y1="933.80" x2="339.20" y2="933.80" stroke="#1e1a1b" stroke-width="1.1" />
<text font-family="'Liberation Sans', sans-serif" font-size="9.6" font-weight="bold" fill="#1e1a1b" text-anchor="end" x="333.60" y="937.20" >0</text>
<line x1="336.00" y1="910.30" x2="339.20" y2="910.30" stroke="#1e1a1b" stroke-width="1.1" />
<text font-family="'Liberation Sans', sans-serif" font-size="9.6" font-weight="bold" fill="#1e1a1b" text-anchor="end" x="333.60" y="913.70" >2</text>
<line x1="336.00" y1="886.80" x2="339.20" y2="886.80" stroke="#1e1a1b" stroke-width="1.1" />
<text font-family="'Liberation Sans', sans-serif" font-size="9.6" font-weight="bold" fill="#1e1a1b" text-anchor="end" x="333.60" y="890.20" >4</text>
<line x1="336.00" y1="863.30" x2="339.20" y2="863.30" stroke="#1e1a1b" stroke-width="1.1" />
<text font-family="'Liberation Sans', sans-serif" font-size="9.6" font-weight="bold" fill="#1e1a1b" text-anchor="end" x="333.60" y="866.70" >6</text>
<line x1="336.00" y1="839.80" x2="339.20" y2="839.80" stroke="#1e1a1b" stroke-width="1.1" />
<text font-family="'Liberation Sans', sans-serif" font-size="9.6" font-weight="bold" fill="#1e1a1b" text-anchor="end" x="333.60" y="843.20" >8</text>
<line x1="336.00" y1="816.30" x2="339.20" y2="816.30" stroke="#1e1a1b" stroke-width="1.1" />
<text font-family="'Liberation Sans', sans-serif" font-size="9.6" font-weight="bold" fill="#1e1a1b" text-anchor="end" x="333.60" y="819.70" >10</text>
<line x1="336.00" y1="792.80" x2="339.20" y2="792.80" stroke="#1e1a1b" stroke-width="1.1" />
<text font-family="'Liberation Sans', sans-serif" font-size="9.6" font-weight="bold" fill="#1e1a1b" text-anchor="end" x="333.60" y="796.20" >12</text>
<text font-family="'Liberation Sans', sans-serif" font-size="11.8" font-weight="bold" fill="#1e1a1b" text-anchor="middle" textLength="100.8" lengthAdjust="spacingAndGlyphs" transform="translate(315.20,861.10) rotate(-90)" x="0" y="0" >Apoptosis cells (%)</text>
<rect x="353.00" y="773.00" width="16.40" height="8.50" fill="#000" />
<rect x="353.00" y="789.10" width="16.40" height="8.80" fill="#3d5aa8" />
<rect x="353.00" y="806.00" width="16.40" height="8.80" fill="#ab60b0" />
<text font-family="'Liberation Sans', sans-serif" font-size="11.7" font-weight="bold" fill="#1e1a1b" text-anchor="start" textLength="33.8" lengthAdjust="spacingAndGlyphs" x="377.40" y="781.40" >shCtrl</text>
<text font-family="'Liberation Sans', sans-serif" font-size="11.7" font-weight="bold" fill="#1e1a1b" text-anchor="start" textLength="68.0" lengthAdjust="spacingAndGlyphs" x="377.40" y="797.60" >shMED23#a</text>
<text font-family="'Liberation Sans', sans-serif" font-size="11.7" font-weight="bold" fill="#1e1a1b" text-anchor="start" textLength="68.8" lengthAdjust="spacingAndGlyphs" x="377.40" y="814.00" >shMED23#b</text>
<rect x="353.30" y="903.70" width="20.30" height="30.10" fill="#000" />
<line x1="363.45" y1="902.60" x2="363.45" y2="904.20" stroke="#000" stroke-width="1.3" />
<line x1="358.45" y1="902.60" x2="368.45" y2="902.60" stroke="#000" stroke-width="1.3" />
<rect x="382.40" y="871.40" width="19.90" height="62.40" fill="#3d5aa8" />
<line x1="392.35" y1="869.00" x2="392.35" y2="871.90" stroke="#3d5aa8" stroke-width="1.3" />
<line x1="387.35" y1="869.00" x2="397.35" y2="869.00" stroke="#3d5aa8" stroke-width="1.3" />
<rect x="411.10" y="887.90" width="20.00" height="45.90" fill="#ab60b0" />
<line x1="421.10" y1="885.20" x2="421.10" y2="888.40" stroke="#ab60b0" stroke-width="1.3" />
<line x1="416.10" y1="885.20" x2="426.10" y2="885.20" stroke="#ab60b0" stroke-width="1.3" />
<rect x="459.10" y="905.40" width="20.30" height="28.40" fill="#000" />
<line x1="469.25" y1="903.00" x2="469.25" y2="905.90" stroke="#000" stroke-width="1.3" />
<line x1="464.25" y1="903.00" x2="474.25" y2="903.00" stroke="#000" stroke-width="1.3" />
<rect x="488.20" y="852.20" width="20.00" height="81.60" fill="#3d5aa8" />
<line x1="498.20" y1="848.00" x2="498.20" y2="852.70" stroke="#3d5aa8" stroke-width="1.3" />
<line x1="493.20" y1="848.00" x2="503.20" y2="848.00" stroke="#3d5aa8" stroke-width="1.3" />
<rect x="516.90" y="837.10" width="20.30" height="96.70" fill="#ab60b0" />
<line x1="527.05" y1="827.40" x2="527.05" y2="837.60" stroke="#ab60b0" stroke-width="1.3" />
<line x1="522.05" y1="827.40" x2="532.05" y2="827.40" stroke="#ab60b0" stroke-width="1.3" />
<line x1="391.80" y1="933.80" x2="391.80" y2="937.00" stroke="#1e1a1b" stroke-width="1.1" />
<line x1="498.00" y1="933.80" x2="498.00" y2="937.00" stroke="#1e1a1b" stroke-width="1.1" />
<polygon points="388.50,859.90 389.12,861.55 390.88,861.63 389.50,862.72 389.97,864.42 388.50,863.45 387.03,864.42 387.50,862.72 386.12,861.63 387.88,861.55" fill="#2b2b2b"/>
<polygon points="393.20,859.90 393.82,861.55 395.58,861.63 394.20,862.72 394.67,864.42 393.20,863.45 391.73,864.42 392.20,862.72 390.82,861.63 392.58,861.55" fill="#2b2b2b"/>
<polygon points="397.80,859.90 398.42,861.55 400.18,861.63 398.80,862.72 399.27,864.42 397.80,863.45 396.33,864.42 396.80,862.72 395.42,861.63 397.18,861.55" fill="#2b2b2b"/>
<polygon points="419.00,875.70 419.62,877.35 421.38,877.43 420.00,878.52 420.47,880.22 419.00,879.25 417.53,880.22 418.00,878.52 416.62,877.43 418.38,877.35" fill="#2b2b2b"/>
<polygon points="423.50,875.70 424.12,877.35 425.88,877.43 424.50,878.52 424.97,880.22 423.50,879.25 422.03,880.22 422.50,878.52 421.12,877.43 422.88,877.35" fill="#2b2b2b"/>
<polygon points="493.20,833.90 493.82,835.55 495.58,835.63 494.20,836.72 494.67,838.42 493.20,837.45 491.73,838.42 492.20,836.72 490.82,835.63 492.58,835.55" fill="#2b2b2b"/>
<polygon points="497.90,833.90 498.52,835.55 500.28,835.63 498.90,836.72 499.37,838.42 497.90,837.45 496.43,838.42 496.90,836.72 495.52,835.63 497.28,835.55" fill="#2b2b2b"/>
<polygon points="502.60,833.90 503.22,835.55 504.98,835.63 503.60,836.72 504.07,838.42 502.60,837.45 501.13,838.42 501.60,836.72 500.22,835.63 501.98,835.55" fill="#2b2b2b"/>
<polygon points="525.20,816.50 525.82,818.15 527.58,818.23 526.20,819.32 526.67,821.02 525.20,820.05 523.73,821.02 524.20,819.32 522.82,818.23 524.58,818.15" fill="#2b2b2b"/>
<polygon points="529.70,816.50 530.32,818.15 532.08,818.23 530.70,819.32 531.17,821.02 529.70,820.05 528.23,821.02 528.70,819.32 527.32,818.23 529.08,818.15" fill="#2b2b2b"/>
<text font-family="'Liberation Sans', sans-serif" font-size="11.3" font-weight="bold" fill="#1e1a1b" text-anchor="start" textLength="28.0" lengthAdjust="spacingAndGlyphs" x="377.10" y="949.20" >Early</text>
<text font-family="'Liberation Sans', sans-serif" font-size="11.3" font-weight="bold" fill="#1e1a1b" text-anchor="start" textLength="24.6" lengthAdjust="spacingAndGlyphs" x="485.70" y="949.20" >Late</text>
<text font-family="'Liberation Sans', sans-serif" font-size="11.3" font-weight="bold" fill="#1e1a1b" text-anchor="start" textLength="27.6" lengthAdjust="spacingAndGlyphs" x="426.20" y="966.70" >Tong</text>
</svg>
</body></html>
